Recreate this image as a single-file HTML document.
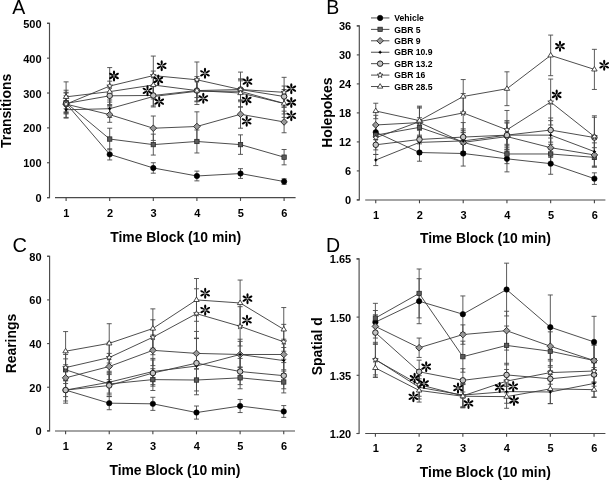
<!DOCTYPE html>
<html><head><meta charset="utf-8"><style>
html,body{margin:0;padding:0;background:#fff;width:609px;height:480px;overflow:hidden}
svg{display:block;will-change:transform}
</style></head><body>
<svg width="609" height="480" viewBox="0 0 609 480">
<rect width="609" height="480" fill="#fff"/>
<path d="M47.00 23.30H49.50V197.60H47.00" stroke="#4a4a4a" stroke-width="1.15" fill="none"/>
<path d="M47.00 197.60H49.50" stroke="#4a4a4a" stroke-width="1.15"/>
<text x="41.60" y="202.10" text-anchor="end" font-family='"Liberation Sans", sans-serif' font-weight="bold" font-size="11">0</text>
<path d="M47.00 162.74H49.50" stroke="#4a4a4a" stroke-width="1.15"/>
<text x="41.60" y="167.24" text-anchor="end" font-family='"Liberation Sans", sans-serif' font-weight="bold" font-size="11">100</text>
<path d="M47.00 127.88H49.50" stroke="#4a4a4a" stroke-width="1.15"/>
<text x="41.60" y="132.38" text-anchor="end" font-family='"Liberation Sans", sans-serif' font-weight="bold" font-size="11">200</text>
<path d="M47.00 93.02H49.50" stroke="#4a4a4a" stroke-width="1.15"/>
<text x="41.60" y="97.52" text-anchor="end" font-family='"Liberation Sans", sans-serif' font-weight="bold" font-size="11">300</text>
<path d="M47.00 58.16H49.50" stroke="#4a4a4a" stroke-width="1.15"/>
<text x="41.60" y="62.66" text-anchor="end" font-family='"Liberation Sans", sans-serif' font-weight="bold" font-size="11">400</text>
<path d="M47.00 23.30H49.50" stroke="#4a4a4a" stroke-width="1.15"/>
<text x="41.60" y="27.80" text-anchor="end" font-family='"Liberation Sans", sans-serif' font-weight="bold" font-size="11">500</text>
<path d="M55.00 197.60H295.60" stroke="#4a4a4a" stroke-width="1.15"/>
<path d="M66.10 197.60V200.90" stroke="#444" stroke-width="1.1"/>
<text x="66.40" y="216.70" text-anchor="middle" font-family='"Liberation Sans", sans-serif' font-weight="bold" font-size="11">1</text>
<path d="M109.70 197.60V200.90" stroke="#444" stroke-width="1.1"/>
<text x="110.00" y="216.70" text-anchor="middle" font-family='"Liberation Sans", sans-serif' font-weight="bold" font-size="11">2</text>
<path d="M153.30 197.60V200.90" stroke="#444" stroke-width="1.1"/>
<text x="153.60" y="216.70" text-anchor="middle" font-family='"Liberation Sans", sans-serif' font-weight="bold" font-size="11">3</text>
<path d="M196.90 197.60V200.90" stroke="#444" stroke-width="1.1"/>
<text x="197.20" y="216.70" text-anchor="middle" font-family='"Liberation Sans", sans-serif' font-weight="bold" font-size="11">4</text>
<path d="M240.50 197.60V200.90" stroke="#444" stroke-width="1.1"/>
<text x="240.80" y="216.70" text-anchor="middle" font-family='"Liberation Sans", sans-serif' font-weight="bold" font-size="11">5</text>
<path d="M284.10 197.60V200.90" stroke="#444" stroke-width="1.1"/>
<text x="284.40" y="216.70" text-anchor="middle" font-family='"Liberation Sans", sans-serif' font-weight="bold" font-size="11">6</text>
<text x="175.75" y="241.70" text-anchor="middle" font-family='"Liberation Sans", sans-serif' font-weight="bold" font-size="13.9">Time Block (10 min)</text>
<text transform="translate(11.00,110.90) rotate(-90)" text-anchor="middle" font-family='"Liberation Sans", sans-serif' font-weight="bold" font-size="13.9">Transitions</text>
<text x="12.30" y="14.00" font-family='"Liberation Sans", sans-serif' font-size="19.5">A</text>
<path d="M66.10 98.25V108.71M63.60 98.25H68.60M63.60 108.71H68.60" stroke="#4a4a4a" stroke-width="0.9" fill="none"/>
<path d="M109.70 148.80V159.95M107.20 148.80H112.20M107.20 159.95H112.20" stroke="#4a4a4a" stroke-width="0.9" fill="none"/>
<path d="M153.30 162.74V173.20M150.80 162.74H155.80M150.80 173.20H155.80" stroke="#4a4a4a" stroke-width="0.9" fill="none"/>
<path d="M196.90 171.11V180.87M194.40 171.11H199.40M194.40 180.87H199.40" stroke="#4a4a4a" stroke-width="0.9" fill="none"/>
<path d="M240.50 168.67V178.43M238.00 168.67H243.00M238.00 178.43H243.00" stroke="#4a4a4a" stroke-width="0.9" fill="none"/>
<path d="M284.10 178.78V184.35M281.60 178.78H286.60M281.60 184.35H286.60" stroke="#4a4a4a" stroke-width="0.9" fill="none"/>
<path d="M66.10 92.32V113.24M63.60 92.32H68.60M63.60 113.24H68.60" stroke="#4a4a4a" stroke-width="0.9" fill="none"/>
<path d="M109.70 128.23V149.84M107.20 128.23H112.20M107.20 149.84H112.20" stroke="#4a4a4a" stroke-width="0.9" fill="none"/>
<path d="M153.30 134.15V155.07M150.80 134.15H155.80M150.80 155.07H155.80" stroke="#4a4a4a" stroke-width="0.9" fill="none"/>
<path d="M196.90 129.97V152.98M194.40 129.97H199.40M194.40 152.98H199.40" stroke="#4a4a4a" stroke-width="0.9" fill="none"/>
<path d="M240.50 134.85V154.37M238.00 134.85H243.00M238.00 154.37H243.00" stroke="#4a4a4a" stroke-width="0.9" fill="none"/>
<path d="M284.10 149.49V164.83M281.60 149.49H286.60M281.60 164.83H286.60" stroke="#4a4a4a" stroke-width="0.9" fill="none"/>
<path d="M66.10 95.81V112.54M63.60 95.81H68.60M63.60 112.54H68.60" stroke="#4a4a4a" stroke-width="0.9" fill="none"/>
<path d="M109.70 106.96V122.30M107.20 106.96H112.20M107.20 122.30H112.20" stroke="#4a4a4a" stroke-width="0.9" fill="none"/>
<path d="M153.30 116.03V140.43M150.80 116.03H155.80M150.80 140.43H155.80" stroke="#4a4a4a" stroke-width="0.9" fill="none"/>
<path d="M196.90 111.84V141.13M194.40 111.84H199.40M194.40 141.13H199.40" stroke="#4a4a4a" stroke-width="0.9" fill="none"/>
<path d="M240.50 100.34V128.23M238.00 100.34H243.00M238.00 128.23H243.00" stroke="#4a4a4a" stroke-width="0.9" fill="none"/>
<path d="M284.10 111.15V132.76M281.60 111.15H286.60M281.60 132.76H286.60" stroke="#4a4a4a" stroke-width="0.9" fill="none"/>
<path d="M66.10 102.08V117.42M63.60 102.08H68.60M63.60 117.42H68.60" stroke="#4a4a4a" stroke-width="0.9" fill="none"/>
<path d="M109.70 99.99V117.42M107.20 99.99H112.20M107.20 117.42H112.20" stroke="#4a4a4a" stroke-width="0.9" fill="none"/>
<path d="M153.30 86.05V106.96M150.80 86.05H155.80M150.80 106.96H155.80" stroke="#4a4a4a" stroke-width="0.9" fill="none"/>
<path d="M196.90 80.82V101.74M194.40 80.82H199.40M194.40 101.74H199.40" stroke="#4a4a4a" stroke-width="0.9" fill="none"/>
<path d="M240.50 80.82V101.74M238.00 80.82H243.00M238.00 101.74H243.00" stroke="#4a4a4a" stroke-width="0.9" fill="none"/>
<path d="M284.10 93.02V113.94M281.60 93.02H286.60M281.60 113.94H286.60" stroke="#4a4a4a" stroke-width="0.9" fill="none"/>
<path d="M66.10 93.02V113.94M63.60 93.02H68.60M63.60 113.94H68.60" stroke="#4a4a4a" stroke-width="0.9" fill="none"/>
<path d="M109.70 86.05V105.57M107.20 86.05H112.20M107.20 105.57H112.20" stroke="#4a4a4a" stroke-width="0.9" fill="none"/>
<path d="M153.30 85.00V105.92M150.80 85.00H155.80M150.80 105.92H155.80" stroke="#4a4a4a" stroke-width="0.9" fill="none"/>
<path d="M196.90 80.12V101.04M194.40 80.12H199.40M194.40 101.04H199.40" stroke="#4a4a4a" stroke-width="0.9" fill="none"/>
<path d="M240.50 79.08V99.99M238.00 79.08H243.00M238.00 99.99H243.00" stroke="#4a4a4a" stroke-width="0.9" fill="none"/>
<path d="M284.10 86.05V106.96M281.60 86.05H286.60M281.60 106.96H286.60" stroke="#4a4a4a" stroke-width="0.9" fill="none"/>
<path d="M66.10 90.23V118.12M63.60 90.23H68.60M63.60 118.12H68.60" stroke="#4a4a4a" stroke-width="0.9" fill="none"/>
<path d="M109.70 67.57V104.52M107.20 67.57H112.20M107.20 104.52H112.20" stroke="#4a4a4a" stroke-width="0.9" fill="none"/>
<path d="M153.30 56.07V95.11M150.80 56.07H155.80M150.80 95.11H155.80" stroke="#4a4a4a" stroke-width="0.9" fill="none"/>
<path d="M196.90 61.99V97.55M194.40 61.99H199.40M194.40 97.55H199.40" stroke="#4a4a4a" stroke-width="0.9" fill="none"/>
<path d="M240.50 72.10V106.96M238.00 72.10H243.00M238.00 106.96H243.00" stroke="#4a4a4a" stroke-width="0.9" fill="none"/>
<path d="M284.10 77.33V107.31M281.60 77.33H286.60M281.60 107.31H286.60" stroke="#4a4a4a" stroke-width="0.9" fill="none"/>
<path d="M66.10 81.86V111.84M63.60 81.86H68.60M63.60 111.84H68.60" stroke="#4a4a4a" stroke-width="0.9" fill="none"/>
<path d="M109.70 81.17V102.08M107.20 81.17H112.20M107.20 102.08H112.20" stroke="#4a4a4a" stroke-width="0.9" fill="none"/>
<path d="M153.30 71.06V98.95M150.80 71.06H155.80M150.80 98.95H155.80" stroke="#4a4a4a" stroke-width="0.9" fill="none"/>
<path d="M196.90 76.64V104.52M194.40 76.64H199.40M194.40 104.52H199.40" stroke="#4a4a4a" stroke-width="0.9" fill="none"/>
<path d="M240.50 79.08V106.96M238.00 79.08H243.00M238.00 106.96H243.00" stroke="#4a4a4a" stroke-width="0.9" fill="none"/>
<path d="M284.10 89.53V117.42M281.60 89.53H286.60M281.60 117.42H286.60" stroke="#4a4a4a" stroke-width="0.9" fill="none"/>
<polyline points="66.10,103.48 109.70,154.37 153.30,167.97 196.90,175.99 240.50,173.55 284.10,181.56" stroke="#3a3a3a" stroke-width="0.9" fill="none"/>
<polyline points="66.10,102.78 109.70,139.04 153.30,144.61 196.90,141.48 240.50,144.61 284.10,157.16" stroke="#3a3a3a" stroke-width="0.9" fill="none"/>
<polyline points="66.10,104.18 109.70,114.63 153.30,128.23 196.90,126.49 240.50,114.28 284.10,121.95" stroke="#3a3a3a" stroke-width="0.9" fill="none"/>
<polyline points="66.10,109.75 109.70,108.71 153.30,96.51 196.90,91.28 240.50,91.28 284.10,103.48" stroke="#3a3a3a" stroke-width="0.9" fill="none"/>
<polyline points="66.10,103.48 109.70,95.81 153.30,95.46 196.90,90.58 240.50,89.53 284.10,96.51" stroke="#3a3a3a" stroke-width="0.9" fill="none"/>
<polyline points="66.10,104.18 109.70,86.05 153.30,75.59 196.90,79.77 240.50,89.53 284.10,92.32" stroke="#3a3a3a" stroke-width="0.9" fill="none"/>
<polyline points="66.10,96.85 109.70,91.63 153.30,85.00 196.90,90.58 240.50,93.02 284.10,103.48" stroke="#3a3a3a" stroke-width="0.9" fill="none"/>
<circle cx="66.10" cy="103.48" r="2.70" fill="#000" stroke="#000" stroke-width="0.6"/>
<circle cx="109.70" cy="154.37" r="2.70" fill="#000" stroke="#000" stroke-width="0.6"/>
<circle cx="153.30" cy="167.97" r="2.70" fill="#000" stroke="#000" stroke-width="0.6"/>
<circle cx="196.90" cy="175.99" r="2.70" fill="#000" stroke="#000" stroke-width="0.6"/>
<circle cx="240.50" cy="173.55" r="2.70" fill="#000" stroke="#000" stroke-width="0.6"/>
<circle cx="284.10" cy="181.56" r="2.70" fill="#000" stroke="#000" stroke-width="0.6"/>
<rect x="63.90" y="100.58" width="4.40" height="4.40" fill="#5a5a5a" stroke="#222" stroke-width="0.7"/>
<rect x="107.50" y="136.84" width="4.40" height="4.40" fill="#5a5a5a" stroke="#222" stroke-width="0.7"/>
<rect x="151.10" y="142.41" width="4.40" height="4.40" fill="#5a5a5a" stroke="#222" stroke-width="0.7"/>
<rect x="194.70" y="139.28" width="4.40" height="4.40" fill="#5a5a5a" stroke="#222" stroke-width="0.7"/>
<rect x="238.30" y="142.41" width="4.40" height="4.40" fill="#5a5a5a" stroke="#222" stroke-width="0.7"/>
<rect x="281.90" y="154.96" width="4.40" height="4.40" fill="#5a5a5a" stroke="#222" stroke-width="0.7"/>
<path d="M66.10 100.88L69.40 104.18L66.10 107.48L62.80 104.18Z" fill="#999" stroke="#222" stroke-width="0.9"/>
<path d="M109.70 111.33L113.00 114.63L109.70 117.93L106.40 114.63Z" fill="#999" stroke="#222" stroke-width="0.9"/>
<path d="M153.30 124.93L156.60 128.23L153.30 131.53L150.00 128.23Z" fill="#999" stroke="#222" stroke-width="0.9"/>
<path d="M196.90 123.19L200.20 126.49L196.90 129.79L193.60 126.49Z" fill="#999" stroke="#222" stroke-width="0.9"/>
<path d="M240.50 110.98L243.80 114.28L240.50 117.58L237.20 114.28Z" fill="#999" stroke="#222" stroke-width="0.9"/>
<path d="M284.10 118.65L287.40 121.95L284.10 125.25L280.80 121.95Z" fill="#999" stroke="#222" stroke-width="0.9"/>
<path d="M66.10 107.75L66.80 109.05L68.10 109.75L66.80 110.45L66.10 111.75L65.40 110.45L64.10 109.75L65.40 109.05Z" fill="#000"/>
<path d="M109.70 106.71L110.40 108.01L111.70 108.71L110.40 109.41L109.70 110.71L109.00 109.41L107.70 108.71L109.00 108.01Z" fill="#000"/>
<path d="M153.30 94.51L154.00 95.81L155.30 96.51L154.00 97.21L153.30 98.51L152.60 97.21L151.30 96.51L152.60 95.81Z" fill="#000"/>
<path d="M196.90 89.28L197.60 90.58L198.90 91.28L197.60 91.98L196.90 93.28L196.20 91.98L194.90 91.28L196.20 90.58Z" fill="#000"/>
<path d="M240.50 89.28L241.20 90.58L242.50 91.28L241.20 91.98L240.50 93.28L239.80 91.98L238.50 91.28L239.80 90.58Z" fill="#000"/>
<path d="M284.10 101.48L284.80 102.78L286.10 103.48L284.80 104.18L284.10 105.48L283.40 104.18L282.10 103.48L283.40 102.78Z" fill="#000"/>
<circle cx="66.10" cy="103.48" r="2.75" fill="#c4c4c4" stroke="#222" stroke-width="1.0"/>
<circle cx="109.70" cy="95.81" r="2.75" fill="#c4c4c4" stroke="#222" stroke-width="1.0"/>
<circle cx="153.30" cy="95.46" r="2.75" fill="#c4c4c4" stroke="#222" stroke-width="1.0"/>
<circle cx="196.90" cy="90.58" r="2.75" fill="#c4c4c4" stroke="#222" stroke-width="1.0"/>
<circle cx="240.50" cy="89.53" r="2.75" fill="#c4c4c4" stroke="#222" stroke-width="1.0"/>
<circle cx="284.10" cy="96.51" r="2.75" fill="#c4c4c4" stroke="#222" stroke-width="1.0"/>
<polygon points="66.10,101.18 66.86,103.12 68.95,103.25 67.34,104.58 67.86,106.60 66.10,105.48 64.34,106.60 64.86,104.58 63.25,103.25 65.34,103.12" fill="#fff" stroke="#222" stroke-width="0.8"/>
<polygon points="109.70,83.05 110.46,85.00 112.55,85.12 110.94,86.45 111.46,88.48 109.70,87.35 107.94,88.48 108.46,86.45 106.85,85.12 108.94,85.00" fill="#fff" stroke="#222" stroke-width="0.8"/>
<polygon points="153.30,72.59 154.06,74.54 156.15,74.66 154.54,75.99 155.06,78.02 153.30,76.89 151.54,78.02 152.06,75.99 150.45,74.66 152.54,74.54" fill="#fff" stroke="#222" stroke-width="0.8"/>
<polygon points="196.90,76.77 197.66,78.72 199.75,78.85 198.14,80.17 198.66,82.20 196.90,81.07 195.14,82.20 195.66,80.17 194.05,78.85 196.14,78.72" fill="#fff" stroke="#222" stroke-width="0.8"/>
<polygon points="240.50,86.53 241.26,88.48 243.35,88.61 241.74,89.94 242.26,91.96 240.50,90.83 238.74,91.96 239.26,89.94 237.65,88.61 239.74,88.48" fill="#fff" stroke="#222" stroke-width="0.8"/>
<polygon points="284.10,89.32 284.86,91.27 286.95,91.40 285.34,92.72 285.86,94.75 284.10,93.62 282.34,94.75 282.86,92.72 281.25,91.40 283.34,91.27" fill="#fff" stroke="#222" stroke-width="0.8"/>
<path d="M66.10 93.95L68.85 98.45L63.35 98.45Z" fill="#fff" stroke="#222" stroke-width="0.8"/>
<path d="M109.70 88.73L112.45 93.23L106.95 93.23Z" fill="#fff" stroke="#222" stroke-width="0.8"/>
<path d="M153.30 82.10L156.05 86.60L150.55 86.60Z" fill="#fff" stroke="#222" stroke-width="0.8"/>
<path d="M196.90 87.68L199.65 92.18L194.15 92.18Z" fill="#fff" stroke="#222" stroke-width="0.8"/>
<path d="M240.50 90.12L243.25 94.62L237.75 94.62Z" fill="#fff" stroke="#222" stroke-width="0.8"/>
<path d="M284.10 100.58L286.85 105.08L281.35 105.08Z" fill="#fff" stroke="#222" stroke-width="0.8"/>
<g fill="#000"><path transform="translate(114.00,76.00) rotate(0)" d="M0 -0.3C-1.45 -2.0 -1.45 -5.50 0 -5.50C1.45 -5.50 1.45 -2.0 0 -0.3Z"/><path transform="translate(114.00,76.00) rotate(60)" d="M0 -0.3C-1.45 -2.0 -1.45 -5.50 0 -5.50C1.45 -5.50 1.45 -2.0 0 -0.3Z"/><path transform="translate(114.00,76.00) rotate(120)" d="M0 -0.3C-1.45 -2.0 -1.45 -5.50 0 -5.50C1.45 -5.50 1.45 -2.0 0 -0.3Z"/><path transform="translate(114.00,76.00) rotate(180)" d="M0 -0.3C-1.45 -2.0 -1.45 -5.50 0 -5.50C1.45 -5.50 1.45 -2.0 0 -0.3Z"/><path transform="translate(114.00,76.00) rotate(240)" d="M0 -0.3C-1.45 -2.0 -1.45 -5.50 0 -5.50C1.45 -5.50 1.45 -2.0 0 -0.3Z"/><path transform="translate(114.00,76.00) rotate(300)" d="M0 -0.3C-1.45 -2.0 -1.45 -5.50 0 -5.50C1.45 -5.50 1.45 -2.0 0 -0.3Z"/></g>
<g fill="#000"><path transform="translate(161.70,65.80) rotate(0)" d="M0 -0.3C-1.45 -2.0 -1.45 -5.50 0 -5.50C1.45 -5.50 1.45 -2.0 0 -0.3Z"/><path transform="translate(161.70,65.80) rotate(60)" d="M0 -0.3C-1.45 -2.0 -1.45 -5.50 0 -5.50C1.45 -5.50 1.45 -2.0 0 -0.3Z"/><path transform="translate(161.70,65.80) rotate(120)" d="M0 -0.3C-1.45 -2.0 -1.45 -5.50 0 -5.50C1.45 -5.50 1.45 -2.0 0 -0.3Z"/><path transform="translate(161.70,65.80) rotate(180)" d="M0 -0.3C-1.45 -2.0 -1.45 -5.50 0 -5.50C1.45 -5.50 1.45 -2.0 0 -0.3Z"/><path transform="translate(161.70,65.80) rotate(240)" d="M0 -0.3C-1.45 -2.0 -1.45 -5.50 0 -5.50C1.45 -5.50 1.45 -2.0 0 -0.3Z"/><path transform="translate(161.70,65.80) rotate(300)" d="M0 -0.3C-1.45 -2.0 -1.45 -5.50 0 -5.50C1.45 -5.50 1.45 -2.0 0 -0.3Z"/></g>
<g fill="#000"><path transform="translate(158.30,80.00) rotate(0)" d="M0 -0.3C-1.45 -2.0 -1.45 -5.50 0 -5.50C1.45 -5.50 1.45 -2.0 0 -0.3Z"/><path transform="translate(158.30,80.00) rotate(60)" d="M0 -0.3C-1.45 -2.0 -1.45 -5.50 0 -5.50C1.45 -5.50 1.45 -2.0 0 -0.3Z"/><path transform="translate(158.30,80.00) rotate(120)" d="M0 -0.3C-1.45 -2.0 -1.45 -5.50 0 -5.50C1.45 -5.50 1.45 -2.0 0 -0.3Z"/><path transform="translate(158.30,80.00) rotate(180)" d="M0 -0.3C-1.45 -2.0 -1.45 -5.50 0 -5.50C1.45 -5.50 1.45 -2.0 0 -0.3Z"/><path transform="translate(158.30,80.00) rotate(240)" d="M0 -0.3C-1.45 -2.0 -1.45 -5.50 0 -5.50C1.45 -5.50 1.45 -2.0 0 -0.3Z"/><path transform="translate(158.30,80.00) rotate(300)" d="M0 -0.3C-1.45 -2.0 -1.45 -5.50 0 -5.50C1.45 -5.50 1.45 -2.0 0 -0.3Z"/></g>
<g fill="#000"><path transform="translate(147.50,90.80) rotate(0)" d="M0 -0.3C-1.45 -2.0 -1.45 -5.50 0 -5.50C1.45 -5.50 1.45 -2.0 0 -0.3Z"/><path transform="translate(147.50,90.80) rotate(60)" d="M0 -0.3C-1.45 -2.0 -1.45 -5.50 0 -5.50C1.45 -5.50 1.45 -2.0 0 -0.3Z"/><path transform="translate(147.50,90.80) rotate(120)" d="M0 -0.3C-1.45 -2.0 -1.45 -5.50 0 -5.50C1.45 -5.50 1.45 -2.0 0 -0.3Z"/><path transform="translate(147.50,90.80) rotate(180)" d="M0 -0.3C-1.45 -2.0 -1.45 -5.50 0 -5.50C1.45 -5.50 1.45 -2.0 0 -0.3Z"/><path transform="translate(147.50,90.80) rotate(240)" d="M0 -0.3C-1.45 -2.0 -1.45 -5.50 0 -5.50C1.45 -5.50 1.45 -2.0 0 -0.3Z"/><path transform="translate(147.50,90.80) rotate(300)" d="M0 -0.3C-1.45 -2.0 -1.45 -5.50 0 -5.50C1.45 -5.50 1.45 -2.0 0 -0.3Z"/></g>
<g fill="#000"><path transform="translate(159.20,101.70) rotate(0)" d="M0 -0.3C-1.45 -2.0 -1.45 -5.50 0 -5.50C1.45 -5.50 1.45 -2.0 0 -0.3Z"/><path transform="translate(159.20,101.70) rotate(60)" d="M0 -0.3C-1.45 -2.0 -1.45 -5.50 0 -5.50C1.45 -5.50 1.45 -2.0 0 -0.3Z"/><path transform="translate(159.20,101.70) rotate(120)" d="M0 -0.3C-1.45 -2.0 -1.45 -5.50 0 -5.50C1.45 -5.50 1.45 -2.0 0 -0.3Z"/><path transform="translate(159.20,101.70) rotate(180)" d="M0 -0.3C-1.45 -2.0 -1.45 -5.50 0 -5.50C1.45 -5.50 1.45 -2.0 0 -0.3Z"/><path transform="translate(159.20,101.70) rotate(240)" d="M0 -0.3C-1.45 -2.0 -1.45 -5.50 0 -5.50C1.45 -5.50 1.45 -2.0 0 -0.3Z"/><path transform="translate(159.20,101.70) rotate(300)" d="M0 -0.3C-1.45 -2.0 -1.45 -5.50 0 -5.50C1.45 -5.50 1.45 -2.0 0 -0.3Z"/></g>
<g fill="#000"><path transform="translate(205.00,73.30) rotate(0)" d="M0 -0.3C-1.45 -2.0 -1.45 -5.50 0 -5.50C1.45 -5.50 1.45 -2.0 0 -0.3Z"/><path transform="translate(205.00,73.30) rotate(60)" d="M0 -0.3C-1.45 -2.0 -1.45 -5.50 0 -5.50C1.45 -5.50 1.45 -2.0 0 -0.3Z"/><path transform="translate(205.00,73.30) rotate(120)" d="M0 -0.3C-1.45 -2.0 -1.45 -5.50 0 -5.50C1.45 -5.50 1.45 -2.0 0 -0.3Z"/><path transform="translate(205.00,73.30) rotate(180)" d="M0 -0.3C-1.45 -2.0 -1.45 -5.50 0 -5.50C1.45 -5.50 1.45 -2.0 0 -0.3Z"/><path transform="translate(205.00,73.30) rotate(240)" d="M0 -0.3C-1.45 -2.0 -1.45 -5.50 0 -5.50C1.45 -5.50 1.45 -2.0 0 -0.3Z"/><path transform="translate(205.00,73.30) rotate(300)" d="M0 -0.3C-1.45 -2.0 -1.45 -5.50 0 -5.50C1.45 -5.50 1.45 -2.0 0 -0.3Z"/></g>
<g fill="#000"><path transform="translate(203.30,98.30) rotate(0)" d="M0 -0.3C-1.45 -2.0 -1.45 -5.50 0 -5.50C1.45 -5.50 1.45 -2.0 0 -0.3Z"/><path transform="translate(203.30,98.30) rotate(60)" d="M0 -0.3C-1.45 -2.0 -1.45 -5.50 0 -5.50C1.45 -5.50 1.45 -2.0 0 -0.3Z"/><path transform="translate(203.30,98.30) rotate(120)" d="M0 -0.3C-1.45 -2.0 -1.45 -5.50 0 -5.50C1.45 -5.50 1.45 -2.0 0 -0.3Z"/><path transform="translate(203.30,98.30) rotate(180)" d="M0 -0.3C-1.45 -2.0 -1.45 -5.50 0 -5.50C1.45 -5.50 1.45 -2.0 0 -0.3Z"/><path transform="translate(203.30,98.30) rotate(240)" d="M0 -0.3C-1.45 -2.0 -1.45 -5.50 0 -5.50C1.45 -5.50 1.45 -2.0 0 -0.3Z"/><path transform="translate(203.30,98.30) rotate(300)" d="M0 -0.3C-1.45 -2.0 -1.45 -5.50 0 -5.50C1.45 -5.50 1.45 -2.0 0 -0.3Z"/></g>
<g fill="#000"><path transform="translate(247.50,81.70) rotate(0)" d="M0 -0.3C-1.45 -2.0 -1.45 -5.50 0 -5.50C1.45 -5.50 1.45 -2.0 0 -0.3Z"/><path transform="translate(247.50,81.70) rotate(60)" d="M0 -0.3C-1.45 -2.0 -1.45 -5.50 0 -5.50C1.45 -5.50 1.45 -2.0 0 -0.3Z"/><path transform="translate(247.50,81.70) rotate(120)" d="M0 -0.3C-1.45 -2.0 -1.45 -5.50 0 -5.50C1.45 -5.50 1.45 -2.0 0 -0.3Z"/><path transform="translate(247.50,81.70) rotate(180)" d="M0 -0.3C-1.45 -2.0 -1.45 -5.50 0 -5.50C1.45 -5.50 1.45 -2.0 0 -0.3Z"/><path transform="translate(247.50,81.70) rotate(240)" d="M0 -0.3C-1.45 -2.0 -1.45 -5.50 0 -5.50C1.45 -5.50 1.45 -2.0 0 -0.3Z"/><path transform="translate(247.50,81.70) rotate(300)" d="M0 -0.3C-1.45 -2.0 -1.45 -5.50 0 -5.50C1.45 -5.50 1.45 -2.0 0 -0.3Z"/></g>
<g fill="#000"><path transform="translate(246.70,100.00) rotate(0)" d="M0 -0.3C-1.45 -2.0 -1.45 -5.50 0 -5.50C1.45 -5.50 1.45 -2.0 0 -0.3Z"/><path transform="translate(246.70,100.00) rotate(60)" d="M0 -0.3C-1.45 -2.0 -1.45 -5.50 0 -5.50C1.45 -5.50 1.45 -2.0 0 -0.3Z"/><path transform="translate(246.70,100.00) rotate(120)" d="M0 -0.3C-1.45 -2.0 -1.45 -5.50 0 -5.50C1.45 -5.50 1.45 -2.0 0 -0.3Z"/><path transform="translate(246.70,100.00) rotate(180)" d="M0 -0.3C-1.45 -2.0 -1.45 -5.50 0 -5.50C1.45 -5.50 1.45 -2.0 0 -0.3Z"/><path transform="translate(246.70,100.00) rotate(240)" d="M0 -0.3C-1.45 -2.0 -1.45 -5.50 0 -5.50C1.45 -5.50 1.45 -2.0 0 -0.3Z"/><path transform="translate(246.70,100.00) rotate(300)" d="M0 -0.3C-1.45 -2.0 -1.45 -5.50 0 -5.50C1.45 -5.50 1.45 -2.0 0 -0.3Z"/></g>
<g fill="#000"><path transform="translate(246.70,121.30) rotate(0)" d="M0 -0.3C-1.45 -2.0 -1.45 -5.50 0 -5.50C1.45 -5.50 1.45 -2.0 0 -0.3Z"/><path transform="translate(246.70,121.30) rotate(60)" d="M0 -0.3C-1.45 -2.0 -1.45 -5.50 0 -5.50C1.45 -5.50 1.45 -2.0 0 -0.3Z"/><path transform="translate(246.70,121.30) rotate(120)" d="M0 -0.3C-1.45 -2.0 -1.45 -5.50 0 -5.50C1.45 -5.50 1.45 -2.0 0 -0.3Z"/><path transform="translate(246.70,121.30) rotate(180)" d="M0 -0.3C-1.45 -2.0 -1.45 -5.50 0 -5.50C1.45 -5.50 1.45 -2.0 0 -0.3Z"/><path transform="translate(246.70,121.30) rotate(240)" d="M0 -0.3C-1.45 -2.0 -1.45 -5.50 0 -5.50C1.45 -5.50 1.45 -2.0 0 -0.3Z"/><path transform="translate(246.70,121.30) rotate(300)" d="M0 -0.3C-1.45 -2.0 -1.45 -5.50 0 -5.50C1.45 -5.50 1.45 -2.0 0 -0.3Z"/></g>
<g fill="#000"><path transform="translate(291.30,88.70) rotate(0)" d="M0 -0.3C-1.45 -2.0 -1.45 -5.50 0 -5.50C1.45 -5.50 1.45 -2.0 0 -0.3Z"/><path transform="translate(291.30,88.70) rotate(60)" d="M0 -0.3C-1.45 -2.0 -1.45 -5.50 0 -5.50C1.45 -5.50 1.45 -2.0 0 -0.3Z"/><path transform="translate(291.30,88.70) rotate(120)" d="M0 -0.3C-1.45 -2.0 -1.45 -5.50 0 -5.50C1.45 -5.50 1.45 -2.0 0 -0.3Z"/><path transform="translate(291.30,88.70) rotate(180)" d="M0 -0.3C-1.45 -2.0 -1.45 -5.50 0 -5.50C1.45 -5.50 1.45 -2.0 0 -0.3Z"/><path transform="translate(291.30,88.70) rotate(240)" d="M0 -0.3C-1.45 -2.0 -1.45 -5.50 0 -5.50C1.45 -5.50 1.45 -2.0 0 -0.3Z"/><path transform="translate(291.30,88.70) rotate(300)" d="M0 -0.3C-1.45 -2.0 -1.45 -5.50 0 -5.50C1.45 -5.50 1.45 -2.0 0 -0.3Z"/></g>
<g fill="#000"><path transform="translate(291.30,102.50) rotate(0)" d="M0 -0.3C-1.45 -2.0 -1.45 -5.50 0 -5.50C1.45 -5.50 1.45 -2.0 0 -0.3Z"/><path transform="translate(291.30,102.50) rotate(60)" d="M0 -0.3C-1.45 -2.0 -1.45 -5.50 0 -5.50C1.45 -5.50 1.45 -2.0 0 -0.3Z"/><path transform="translate(291.30,102.50) rotate(120)" d="M0 -0.3C-1.45 -2.0 -1.45 -5.50 0 -5.50C1.45 -5.50 1.45 -2.0 0 -0.3Z"/><path transform="translate(291.30,102.50) rotate(180)" d="M0 -0.3C-1.45 -2.0 -1.45 -5.50 0 -5.50C1.45 -5.50 1.45 -2.0 0 -0.3Z"/><path transform="translate(291.30,102.50) rotate(240)" d="M0 -0.3C-1.45 -2.0 -1.45 -5.50 0 -5.50C1.45 -5.50 1.45 -2.0 0 -0.3Z"/><path transform="translate(291.30,102.50) rotate(300)" d="M0 -0.3C-1.45 -2.0 -1.45 -5.50 0 -5.50C1.45 -5.50 1.45 -2.0 0 -0.3Z"/></g>
<g fill="#000"><path transform="translate(291.30,115.80) rotate(0)" d="M0 -0.3C-1.45 -2.0 -1.45 -5.50 0 -5.50C1.45 -5.50 1.45 -2.0 0 -0.3Z"/><path transform="translate(291.30,115.80) rotate(60)" d="M0 -0.3C-1.45 -2.0 -1.45 -5.50 0 -5.50C1.45 -5.50 1.45 -2.0 0 -0.3Z"/><path transform="translate(291.30,115.80) rotate(120)" d="M0 -0.3C-1.45 -2.0 -1.45 -5.50 0 -5.50C1.45 -5.50 1.45 -2.0 0 -0.3Z"/><path transform="translate(291.30,115.80) rotate(180)" d="M0 -0.3C-1.45 -2.0 -1.45 -5.50 0 -5.50C1.45 -5.50 1.45 -2.0 0 -0.3Z"/><path transform="translate(291.30,115.80) rotate(240)" d="M0 -0.3C-1.45 -2.0 -1.45 -5.50 0 -5.50C1.45 -5.50 1.45 -2.0 0 -0.3Z"/><path transform="translate(291.30,115.80) rotate(300)" d="M0 -0.3C-1.45 -2.0 -1.45 -5.50 0 -5.50C1.45 -5.50 1.45 -2.0 0 -0.3Z"/></g>
<path d="M356.80 25.90H359.30V199.90H356.80" stroke="#4a4a4a" stroke-width="1.15" fill="none"/>
<path d="M356.80 199.90H359.30" stroke="#4a4a4a" stroke-width="1.15"/>
<text x="351.20" y="204.40" text-anchor="end" font-family='"Liberation Sans", sans-serif' font-weight="bold" font-size="11">0</text>
<path d="M356.80 170.90H359.30" stroke="#4a4a4a" stroke-width="1.15"/>
<text x="351.20" y="175.40" text-anchor="end" font-family='"Liberation Sans", sans-serif' font-weight="bold" font-size="11">6</text>
<path d="M356.80 141.90H359.30" stroke="#4a4a4a" stroke-width="1.15"/>
<text x="351.20" y="146.40" text-anchor="end" font-family='"Liberation Sans", sans-serif' font-weight="bold" font-size="11">12</text>
<path d="M356.80 112.90H359.30" stroke="#4a4a4a" stroke-width="1.15"/>
<text x="351.20" y="117.40" text-anchor="end" font-family='"Liberation Sans", sans-serif' font-weight="bold" font-size="11">18</text>
<path d="M356.80 83.90H359.30" stroke="#4a4a4a" stroke-width="1.15"/>
<text x="351.20" y="88.40" text-anchor="end" font-family='"Liberation Sans", sans-serif' font-weight="bold" font-size="11">24</text>
<path d="M356.80 54.90H359.30" stroke="#4a4a4a" stroke-width="1.15"/>
<text x="351.20" y="59.40" text-anchor="end" font-family='"Liberation Sans", sans-serif' font-weight="bold" font-size="11">30</text>
<path d="M356.80 25.90H359.30" stroke="#4a4a4a" stroke-width="1.15"/>
<text x="351.20" y="30.40" text-anchor="end" font-family='"Liberation Sans", sans-serif' font-weight="bold" font-size="11">36</text>
<path d="M365.20 200.00H605.40" stroke="#4a4a4a" stroke-width="1.15"/>
<path d="M375.75 200.00V203.30" stroke="#444" stroke-width="1.1"/>
<text x="376.05" y="219.20" text-anchor="middle" font-family='"Liberation Sans", sans-serif' font-weight="bold" font-size="11">1</text>
<path d="M419.48 200.00V203.30" stroke="#444" stroke-width="1.1"/>
<text x="419.78" y="219.20" text-anchor="middle" font-family='"Liberation Sans", sans-serif' font-weight="bold" font-size="11">2</text>
<path d="M463.21 200.00V203.30" stroke="#444" stroke-width="1.1"/>
<text x="463.51" y="219.20" text-anchor="middle" font-family='"Liberation Sans", sans-serif' font-weight="bold" font-size="11">3</text>
<path d="M506.94 200.00V203.30" stroke="#444" stroke-width="1.1"/>
<text x="507.24" y="219.20" text-anchor="middle" font-family='"Liberation Sans", sans-serif' font-weight="bold" font-size="11">4</text>
<path d="M550.67 200.00V203.30" stroke="#444" stroke-width="1.1"/>
<text x="550.97" y="219.20" text-anchor="middle" font-family='"Liberation Sans", sans-serif' font-weight="bold" font-size="11">5</text>
<path d="M594.40 200.00V203.30" stroke="#444" stroke-width="1.1"/>
<text x="594.70" y="219.20" text-anchor="middle" font-family='"Liberation Sans", sans-serif' font-weight="bold" font-size="11">6</text>
<text x="485.40" y="243.10" text-anchor="middle" font-family='"Liberation Sans", sans-serif' font-weight="bold" font-size="13.9">Time Block (10 min)</text>
<text transform="translate(331.60,112.70) rotate(-90)" text-anchor="middle" font-family='"Liberation Sans", sans-serif' font-weight="bold" font-size="13.9">Holepokes</text>
<text x="326.20" y="14.00" font-family='"Liberation Sans", sans-serif' font-size="19.5">B</text>
<path d="M375.75 124.98V139.48M373.25 124.98H378.25M373.25 139.48H378.25" stroke="#4a4a4a" stroke-width="0.9" fill="none"/>
<path d="M419.48 143.83V161.23M416.98 143.83H421.98M416.98 161.23H421.98" stroke="#4a4a4a" stroke-width="0.9" fill="none"/>
<path d="M463.21 140.93V166.07M460.71 140.93H465.71M460.71 166.07H465.71" stroke="#4a4a4a" stroke-width="0.9" fill="none"/>
<path d="M506.94 145.77V171.87M504.44 145.77H509.44M504.44 171.87H509.44" stroke="#4a4a4a" stroke-width="0.9" fill="none"/>
<path d="M550.67 153.02V174.28M548.17 153.02H553.17M548.17 174.28H553.17" stroke="#4a4a4a" stroke-width="0.9" fill="none"/>
<path d="M594.40 172.83V184.43M591.90 172.83H596.90M591.90 184.43H596.90" stroke="#4a4a4a" stroke-width="0.9" fill="none"/>
<path d="M375.75 125.47V144.80M373.25 125.47H378.25M373.25 144.80H378.25" stroke="#4a4a4a" stroke-width="0.9" fill="none"/>
<path d="M419.48 117.73V137.07M416.98 117.73H421.98M416.98 137.07H421.98" stroke="#4a4a4a" stroke-width="0.9" fill="none"/>
<path d="M463.21 132.72V152.05M460.71 132.72H465.71M460.71 152.05H465.71" stroke="#4a4a4a" stroke-width="0.9" fill="none"/>
<path d="M506.94 144.32V163.65M504.44 144.32H509.44M504.44 163.65H509.44" stroke="#4a4a4a" stroke-width="0.9" fill="none"/>
<path d="M550.67 144.32V163.65M548.17 144.32H553.17M548.17 163.65H553.17" stroke="#4a4a4a" stroke-width="0.9" fill="none"/>
<path d="M594.40 147.70V167.03M591.90 147.70H596.90M591.90 167.03H596.90" stroke="#4a4a4a" stroke-width="0.9" fill="none"/>
<path d="M375.75 115.32V134.65M373.25 115.32H378.25M373.25 134.65H378.25" stroke="#4a4a4a" stroke-width="0.9" fill="none"/>
<path d="M419.48 108.07V137.07M416.98 108.07H421.98M416.98 137.07H421.98" stroke="#4a4a4a" stroke-width="0.9" fill="none"/>
<path d="M463.21 130.30V154.47M460.71 130.30H465.71M460.71 154.47H465.71" stroke="#4a4a4a" stroke-width="0.9" fill="none"/>
<path d="M506.94 122.08V151.08M504.44 122.08H509.44M504.44 151.08H509.44" stroke="#4a4a4a" stroke-width="0.9" fill="none"/>
<path d="M550.67 138.03V157.37M548.17 138.03H553.17M548.17 157.37H553.17" stroke="#4a4a4a" stroke-width="0.9" fill="none"/>
<path d="M594.40 142.87V167.03M591.90 142.87H596.90M591.90 167.03H596.90" stroke="#4a4a4a" stroke-width="0.9" fill="none"/>
<path d="M375.75 154.47V165.58M373.25 154.47H378.25M373.25 165.58H378.25" stroke="#4a4a4a" stroke-width="0.9" fill="none"/>
<path d="M419.48 130.30V154.47M416.98 130.30H421.98M416.98 154.47H421.98" stroke="#4a4a4a" stroke-width="0.9" fill="none"/>
<path d="M463.21 128.85V153.02M460.71 128.85H465.71M460.71 153.02H465.71" stroke="#4a4a4a" stroke-width="0.9" fill="none"/>
<path d="M506.94 123.05V147.22M504.44 123.05H509.44M504.44 147.22H509.44" stroke="#4a4a4a" stroke-width="0.9" fill="none"/>
<path d="M550.67 120.63V149.63M548.17 120.63H553.17M548.17 149.63H553.17" stroke="#4a4a4a" stroke-width="0.9" fill="none"/>
<path d="M594.40 137.07V166.07M591.90 137.07H596.90M591.90 166.07H596.90" stroke="#4a4a4a" stroke-width="0.9" fill="none"/>
<path d="M375.75 135.13V154.47M373.25 135.13H378.25M373.25 154.47H378.25" stroke="#4a4a4a" stroke-width="0.9" fill="none"/>
<path d="M419.48 127.40V151.57M416.98 127.40H421.98M416.98 151.57H421.98" stroke="#4a4a4a" stroke-width="0.9" fill="none"/>
<path d="M463.21 122.57V151.57M460.71 122.57H465.71M460.71 151.57H465.71" stroke="#4a4a4a" stroke-width="0.9" fill="none"/>
<path d="M506.94 120.63V149.63M504.44 120.63H509.44M504.44 149.63H509.44" stroke="#4a4a4a" stroke-width="0.9" fill="none"/>
<path d="M550.67 117.98V142.14M548.17 117.98H553.17M548.17 142.14H553.17" stroke="#4a4a4a" stroke-width="0.9" fill="none"/>
<path d="M594.40 115.80V159.30M591.90 115.80H596.90M591.90 159.30H596.90" stroke="#4a4a4a" stroke-width="0.9" fill="none"/>
<path d="M375.75 125.71V149.88M373.25 125.71H378.25M373.25 149.88H378.25" stroke="#4a4a4a" stroke-width="0.9" fill="none"/>
<path d="M419.48 107.10V136.10M416.98 107.10H421.98M416.98 136.10H421.98" stroke="#4a4a4a" stroke-width="0.9" fill="none"/>
<path d="M463.21 93.57V132.23M460.71 93.57H465.71M460.71 132.23H465.71" stroke="#4a4a4a" stroke-width="0.9" fill="none"/>
<path d="M506.94 110.48V149.15M504.44 110.48H509.44M504.44 149.15H509.44" stroke="#4a4a4a" stroke-width="0.9" fill="none"/>
<path d="M550.67 79.07V124.98M548.17 79.07H553.17M548.17 124.98H553.17" stroke="#4a4a4a" stroke-width="0.9" fill="none"/>
<path d="M594.40 117.25V155.92M591.90 117.25H596.90M591.90 155.92H596.90" stroke="#4a4a4a" stroke-width="0.9" fill="none"/>
<path d="M375.75 103.23V118.70M373.25 103.23H378.25M373.25 118.70H378.25" stroke="#4a4a4a" stroke-width="0.9" fill="none"/>
<path d="M419.48 106.13V135.13M416.98 106.13H421.98M416.98 135.13H421.98" stroke="#4a4a4a" stroke-width="0.9" fill="none"/>
<path d="M463.21 79.55V113.38M460.71 79.55H465.71M460.71 113.38H465.71" stroke="#4a4a4a" stroke-width="0.9" fill="none"/>
<path d="M506.94 71.82V105.65M504.44 71.82H509.44M504.44 105.65H509.44" stroke="#4a4a4a" stroke-width="0.9" fill="none"/>
<path d="M550.67 35.08V75.68M548.17 35.08H553.17M548.17 75.68H553.17" stroke="#4a4a4a" stroke-width="0.9" fill="none"/>
<path d="M594.40 49.34V89.46M591.90 49.34H596.90M591.90 89.46H596.90" stroke="#4a4a4a" stroke-width="0.9" fill="none"/>
<polyline points="375.75,132.23 419.48,152.53 463.21,153.50 506.94,158.82 550.67,163.65 594.40,178.63" stroke="#3a3a3a" stroke-width="0.9" fill="none"/>
<polyline points="375.75,135.13 419.48,127.40 463.21,142.38 506.94,153.98 550.67,153.98 594.40,157.37" stroke="#3a3a3a" stroke-width="0.9" fill="none"/>
<polyline points="375.75,124.98 419.48,122.57 463.21,142.38 506.94,136.58 550.67,147.70 594.40,154.95" stroke="#3a3a3a" stroke-width="0.9" fill="none"/>
<polyline points="375.75,160.03 419.48,142.38 463.21,140.93 506.94,135.13 550.67,135.13 594.40,151.57" stroke="#3a3a3a" stroke-width="0.9" fill="none"/>
<polyline points="375.75,144.80 419.48,139.48 463.21,137.07 506.94,135.13 550.67,130.06 594.40,137.55" stroke="#3a3a3a" stroke-width="0.9" fill="none"/>
<polyline points="375.75,137.79 419.48,121.60 463.21,112.90 506.94,129.82 550.67,102.03 594.40,136.58" stroke="#3a3a3a" stroke-width="0.9" fill="none"/>
<polyline points="375.75,110.97 419.48,120.63 463.21,96.47 506.94,88.73 550.67,55.38 594.40,69.40" stroke="#3a3a3a" stroke-width="0.9" fill="none"/>
<circle cx="375.75" cy="132.23" r="2.70" fill="#000" stroke="#000" stroke-width="0.6"/>
<circle cx="419.48" cy="152.53" r="2.70" fill="#000" stroke="#000" stroke-width="0.6"/>
<circle cx="463.21" cy="153.50" r="2.70" fill="#000" stroke="#000" stroke-width="0.6"/>
<circle cx="506.94" cy="158.82" r="2.70" fill="#000" stroke="#000" stroke-width="0.6"/>
<circle cx="550.67" cy="163.65" r="2.70" fill="#000" stroke="#000" stroke-width="0.6"/>
<circle cx="594.40" cy="178.63" r="2.70" fill="#000" stroke="#000" stroke-width="0.6"/>
<rect x="373.55" y="132.93" width="4.40" height="4.40" fill="#5a5a5a" stroke="#222" stroke-width="0.7"/>
<rect x="417.28" y="125.20" width="4.40" height="4.40" fill="#5a5a5a" stroke="#222" stroke-width="0.7"/>
<rect x="461.01" y="140.18" width="4.40" height="4.40" fill="#5a5a5a" stroke="#222" stroke-width="0.7"/>
<rect x="504.74" y="151.78" width="4.40" height="4.40" fill="#5a5a5a" stroke="#222" stroke-width="0.7"/>
<rect x="548.47" y="151.78" width="4.40" height="4.40" fill="#5a5a5a" stroke="#222" stroke-width="0.7"/>
<rect x="592.20" y="155.17" width="4.40" height="4.40" fill="#5a5a5a" stroke="#222" stroke-width="0.7"/>
<path d="M375.75 121.68L379.05 124.98L375.75 128.28L372.45 124.98Z" fill="#999" stroke="#222" stroke-width="0.9"/>
<path d="M419.48 119.27L422.78 122.57L419.48 125.87L416.18 122.57Z" fill="#999" stroke="#222" stroke-width="0.9"/>
<path d="M463.21 139.08L466.51 142.38L463.21 145.68L459.91 142.38Z" fill="#999" stroke="#222" stroke-width="0.9"/>
<path d="M506.94 133.28L510.24 136.58L506.94 139.88L503.64 136.58Z" fill="#999" stroke="#222" stroke-width="0.9"/>
<path d="M550.67 144.40L553.97 147.70L550.67 151.00L547.37 147.70Z" fill="#999" stroke="#222" stroke-width="0.9"/>
<path d="M594.40 151.65L597.70 154.95L594.40 158.25L591.10 154.95Z" fill="#999" stroke="#222" stroke-width="0.9"/>
<path d="M375.75 158.03L376.45 159.33L377.75 160.03L376.45 160.72L375.75 162.03L375.05 160.72L373.75 160.03L375.05 159.33Z" fill="#000"/>
<path d="M419.48 140.38L420.18 141.68L421.48 142.38L420.18 143.08L419.48 144.38L418.78 143.08L417.48 142.38L418.78 141.68Z" fill="#000"/>
<path d="M463.21 138.93L463.91 140.23L465.21 140.93L463.91 141.63L463.21 142.93L462.51 141.63L461.21 140.93L462.51 140.23Z" fill="#000"/>
<path d="M506.94 133.13L507.64 134.43L508.94 135.13L507.64 135.83L506.94 137.13L506.24 135.83L504.94 135.13L506.24 134.43Z" fill="#000"/>
<path d="M550.67 133.13L551.37 134.43L552.67 135.13L551.37 135.83L550.67 137.13L549.97 135.83L548.67 135.13L549.97 134.43Z" fill="#000"/>
<path d="M594.40 149.57L595.10 150.87L596.40 151.57L595.10 152.27L594.40 153.57L593.70 152.27L592.40 151.57L593.70 150.87Z" fill="#000"/>
<circle cx="375.75" cy="144.80" r="2.75" fill="#c4c4c4" stroke="#222" stroke-width="1.0"/>
<circle cx="419.48" cy="139.48" r="2.75" fill="#c4c4c4" stroke="#222" stroke-width="1.0"/>
<circle cx="463.21" cy="137.07" r="2.75" fill="#c4c4c4" stroke="#222" stroke-width="1.0"/>
<circle cx="506.94" cy="135.13" r="2.75" fill="#c4c4c4" stroke="#222" stroke-width="1.0"/>
<circle cx="550.67" cy="130.06" r="2.75" fill="#c4c4c4" stroke="#222" stroke-width="1.0"/>
<circle cx="594.40" cy="137.55" r="2.75" fill="#c4c4c4" stroke="#222" stroke-width="1.0"/>
<polygon points="375.75,134.79 376.51,136.74 378.60,136.86 376.99,138.19 377.51,140.22 375.75,139.09 373.99,140.22 374.51,138.19 372.90,136.86 374.99,136.74" fill="#fff" stroke="#222" stroke-width="0.8"/>
<polygon points="419.48,118.60 420.24,120.55 422.33,120.67 420.72,122.00 421.24,124.03 419.48,122.90 417.72,124.03 418.24,122.00 416.63,120.67 418.72,120.55" fill="#fff" stroke="#222" stroke-width="0.8"/>
<polygon points="463.21,109.90 463.97,111.85 466.06,111.97 464.45,113.30 464.97,115.33 463.21,114.20 461.45,115.33 461.97,113.30 460.36,111.97 462.45,111.85" fill="#fff" stroke="#222" stroke-width="0.8"/>
<polygon points="506.94,126.82 507.70,128.76 509.79,128.89 508.18,130.22 508.70,132.24 506.94,131.12 505.18,132.24 505.70,130.22 504.09,128.89 506.18,128.76" fill="#fff" stroke="#222" stroke-width="0.8"/>
<polygon points="550.67,99.03 551.43,100.97 553.52,101.10 551.91,102.43 552.43,104.45 550.67,103.33 548.91,104.45 549.43,102.43 547.82,101.10 549.91,100.97" fill="#fff" stroke="#222" stroke-width="0.8"/>
<polygon points="594.40,133.58 595.16,135.53 597.25,135.66 595.64,136.99 596.16,139.01 594.40,137.88 592.64,139.01 593.16,136.99 591.55,135.66 593.64,135.53" fill="#fff" stroke="#222" stroke-width="0.8"/>
<path d="M375.75 108.07L378.50 112.57L373.00 112.57Z" fill="#fff" stroke="#222" stroke-width="0.8"/>
<path d="M419.48 117.73L422.23 122.23L416.73 122.23Z" fill="#fff" stroke="#222" stroke-width="0.8"/>
<path d="M463.21 93.57L465.96 98.07L460.46 98.07Z" fill="#fff" stroke="#222" stroke-width="0.8"/>
<path d="M506.94 85.83L509.69 90.33L504.19 90.33Z" fill="#fff" stroke="#222" stroke-width="0.8"/>
<path d="M550.67 52.48L553.42 56.98L547.92 56.98Z" fill="#fff" stroke="#222" stroke-width="0.8"/>
<path d="M594.40 66.50L597.15 71.00L591.65 71.00Z" fill="#fff" stroke="#222" stroke-width="0.8"/>
<g fill="#000"><path transform="translate(560.00,46.20) rotate(0)" d="M0 -0.3C-1.45 -2.0 -1.45 -5.50 0 -5.50C1.45 -5.50 1.45 -2.0 0 -0.3Z"/><path transform="translate(560.00,46.20) rotate(60)" d="M0 -0.3C-1.45 -2.0 -1.45 -5.50 0 -5.50C1.45 -5.50 1.45 -2.0 0 -0.3Z"/><path transform="translate(560.00,46.20) rotate(120)" d="M0 -0.3C-1.45 -2.0 -1.45 -5.50 0 -5.50C1.45 -5.50 1.45 -2.0 0 -0.3Z"/><path transform="translate(560.00,46.20) rotate(180)" d="M0 -0.3C-1.45 -2.0 -1.45 -5.50 0 -5.50C1.45 -5.50 1.45 -2.0 0 -0.3Z"/><path transform="translate(560.00,46.20) rotate(240)" d="M0 -0.3C-1.45 -2.0 -1.45 -5.50 0 -5.50C1.45 -5.50 1.45 -2.0 0 -0.3Z"/><path transform="translate(560.00,46.20) rotate(300)" d="M0 -0.3C-1.45 -2.0 -1.45 -5.50 0 -5.50C1.45 -5.50 1.45 -2.0 0 -0.3Z"/></g>
<g fill="#000"><path transform="translate(604.20,65.30) rotate(0)" d="M0 -0.3C-1.45 -2.0 -1.45 -5.50 0 -5.50C1.45 -5.50 1.45 -2.0 0 -0.3Z"/><path transform="translate(604.20,65.30) rotate(60)" d="M0 -0.3C-1.45 -2.0 -1.45 -5.50 0 -5.50C1.45 -5.50 1.45 -2.0 0 -0.3Z"/><path transform="translate(604.20,65.30) rotate(120)" d="M0 -0.3C-1.45 -2.0 -1.45 -5.50 0 -5.50C1.45 -5.50 1.45 -2.0 0 -0.3Z"/><path transform="translate(604.20,65.30) rotate(180)" d="M0 -0.3C-1.45 -2.0 -1.45 -5.50 0 -5.50C1.45 -5.50 1.45 -2.0 0 -0.3Z"/><path transform="translate(604.20,65.30) rotate(240)" d="M0 -0.3C-1.45 -2.0 -1.45 -5.50 0 -5.50C1.45 -5.50 1.45 -2.0 0 -0.3Z"/><path transform="translate(604.20,65.30) rotate(300)" d="M0 -0.3C-1.45 -2.0 -1.45 -5.50 0 -5.50C1.45 -5.50 1.45 -2.0 0 -0.3Z"/></g>
<g fill="#000"><path transform="translate(556.70,95.00) rotate(0)" d="M0 -0.3C-1.45 -2.0 -1.45 -5.50 0 -5.50C1.45 -5.50 1.45 -2.0 0 -0.3Z"/><path transform="translate(556.70,95.00) rotate(60)" d="M0 -0.3C-1.45 -2.0 -1.45 -5.50 0 -5.50C1.45 -5.50 1.45 -2.0 0 -0.3Z"/><path transform="translate(556.70,95.00) rotate(120)" d="M0 -0.3C-1.45 -2.0 -1.45 -5.50 0 -5.50C1.45 -5.50 1.45 -2.0 0 -0.3Z"/><path transform="translate(556.70,95.00) rotate(180)" d="M0 -0.3C-1.45 -2.0 -1.45 -5.50 0 -5.50C1.45 -5.50 1.45 -2.0 0 -0.3Z"/><path transform="translate(556.70,95.00) rotate(240)" d="M0 -0.3C-1.45 -2.0 -1.45 -5.50 0 -5.50C1.45 -5.50 1.45 -2.0 0 -0.3Z"/><path transform="translate(556.70,95.00) rotate(300)" d="M0 -0.3C-1.45 -2.0 -1.45 -5.50 0 -5.50C1.45 -5.50 1.45 -2.0 0 -0.3Z"/></g>
<path d="M47.10 256.25H49.60V430.90H47.10" stroke="#4a4a4a" stroke-width="1.15" fill="none"/>
<path d="M47.10 430.90H49.60" stroke="#4a4a4a" stroke-width="1.15"/>
<text x="41.60" y="435.40" text-anchor="end" font-family='"Liberation Sans", sans-serif' font-weight="bold" font-size="11">0</text>
<path d="M47.10 387.24H49.60" stroke="#4a4a4a" stroke-width="1.15"/>
<text x="41.60" y="391.74" text-anchor="end" font-family='"Liberation Sans", sans-serif' font-weight="bold" font-size="11">20</text>
<path d="M47.10 343.57H49.60" stroke="#4a4a4a" stroke-width="1.15"/>
<text x="41.60" y="348.07" text-anchor="end" font-family='"Liberation Sans", sans-serif' font-weight="bold" font-size="11">40</text>
<path d="M47.10 299.91H49.60" stroke="#4a4a4a" stroke-width="1.15"/>
<text x="41.60" y="304.41" text-anchor="end" font-family='"Liberation Sans", sans-serif' font-weight="bold" font-size="11">60</text>
<path d="M47.10 256.25H49.60" stroke="#4a4a4a" stroke-width="1.15"/>
<text x="41.60" y="260.75" text-anchor="end" font-family='"Liberation Sans", sans-serif' font-weight="bold" font-size="11">80</text>
<path d="M55.00 431.00H295.00" stroke="#4a4a4a" stroke-width="1.15"/>
<path d="M65.60 431.00V434.30" stroke="#444" stroke-width="1.1"/>
<text x="65.90" y="449.60" text-anchor="middle" font-family='"Liberation Sans", sans-serif' font-weight="bold" font-size="11">1</text>
<path d="M109.23 431.00V434.30" stroke="#444" stroke-width="1.1"/>
<text x="109.53" y="449.60" text-anchor="middle" font-family='"Liberation Sans", sans-serif' font-weight="bold" font-size="11">2</text>
<path d="M152.86 431.00V434.30" stroke="#444" stroke-width="1.1"/>
<text x="153.16" y="449.60" text-anchor="middle" font-family='"Liberation Sans", sans-serif' font-weight="bold" font-size="11">3</text>
<path d="M196.49 431.00V434.30" stroke="#444" stroke-width="1.1"/>
<text x="196.79" y="449.60" text-anchor="middle" font-family='"Liberation Sans", sans-serif' font-weight="bold" font-size="11">4</text>
<path d="M240.12 431.00V434.30" stroke="#444" stroke-width="1.1"/>
<text x="240.42" y="449.60" text-anchor="middle" font-family='"Liberation Sans", sans-serif' font-weight="bold" font-size="11">5</text>
<path d="M283.75 431.00V434.30" stroke="#444" stroke-width="1.1"/>
<text x="284.05" y="449.60" text-anchor="middle" font-family='"Liberation Sans", sans-serif' font-weight="bold" font-size="11">6</text>
<text x="174.90" y="475.00" text-anchor="middle" font-family='"Liberation Sans", sans-serif' font-weight="bold" font-size="13.9">Time Block (10 min)</text>
<text transform="translate(16.30,343.60) rotate(-90)" text-anchor="middle" font-family='"Liberation Sans", sans-serif' font-weight="bold" font-size="13.9">Rearings</text>
<text x="12.60" y="252.00" font-family='"Liberation Sans", sans-serif' font-size="20">C</text>
<path d="M65.60 383.53V396.62M63.10 383.53H68.10M63.10 396.62H68.10" stroke="#4a4a4a" stroke-width="0.9" fill="none"/>
<path d="M109.23 396.62V409.72M106.73 396.62H111.73M106.73 409.72H111.73" stroke="#4a4a4a" stroke-width="0.9" fill="none"/>
<path d="M152.86 397.28V410.38M150.36 397.28H155.36M150.36 410.38H155.36" stroke="#4a4a4a" stroke-width="0.9" fill="none"/>
<path d="M196.49 406.01V419.11M193.99 406.01H198.99M193.99 419.11H198.99" stroke="#4a4a4a" stroke-width="0.9" fill="none"/>
<path d="M240.12 399.46V412.56M237.62 399.46H242.62M237.62 412.56H242.62" stroke="#4a4a4a" stroke-width="0.9" fill="none"/>
<path d="M283.75 405.58V417.36M281.25 405.58H286.25M281.25 417.36H286.25" stroke="#4a4a4a" stroke-width="0.9" fill="none"/>
<path d="M65.60 358.86V380.69M63.10 358.86H68.10M63.10 380.69H68.10" stroke="#4a4a4a" stroke-width="0.9" fill="none"/>
<path d="M109.23 373.05V394.88M106.73 373.05H111.73M106.73 394.88H111.73" stroke="#4a4a4a" stroke-width="0.9" fill="none"/>
<path d="M152.86 368.68V390.51M150.36 368.68H155.36M150.36 390.51H155.36" stroke="#4a4a4a" stroke-width="0.9" fill="none"/>
<path d="M196.49 369.12V390.95M193.99 369.12H198.99M193.99 390.95H198.99" stroke="#4a4a4a" stroke-width="0.9" fill="none"/>
<path d="M240.12 366.93V388.77M237.62 366.93H242.62M237.62 388.77H242.62" stroke="#4a4a4a" stroke-width="0.9" fill="none"/>
<path d="M283.75 371.08V392.91M281.25 371.08H286.25M281.25 392.91H286.25" stroke="#4a4a4a" stroke-width="0.9" fill="none"/>
<path d="M65.60 364.75V390.95M63.10 364.75H68.10M63.10 390.95H68.10" stroke="#4a4a4a" stroke-width="0.9" fill="none"/>
<path d="M109.23 353.40V379.60M106.73 353.40H111.73M106.73 379.60H111.73" stroke="#4a4a4a" stroke-width="0.9" fill="none"/>
<path d="M152.86 335.06V365.62M150.36 335.06H155.36M150.36 365.62H155.36" stroke="#4a4a4a" stroke-width="0.9" fill="none"/>
<path d="M196.49 338.12V368.68M193.99 338.12H198.99M193.99 368.68H198.99" stroke="#4a4a4a" stroke-width="0.9" fill="none"/>
<path d="M240.12 339.21V369.77M237.62 339.21H242.62M237.62 369.77H242.62" stroke="#4a4a4a" stroke-width="0.9" fill="none"/>
<path d="M283.75 339.21V369.77M281.25 339.21H286.25M281.25 369.77H286.25" stroke="#4a4a4a" stroke-width="0.9" fill="none"/>
<path d="M65.60 376.98V403.17M63.10 376.98H68.10M63.10 403.17H68.10" stroke="#4a4a4a" stroke-width="0.9" fill="none"/>
<path d="M109.23 371.30V393.13M106.73 371.30H111.73M106.73 393.13H111.73" stroke="#4a4a4a" stroke-width="0.9" fill="none"/>
<path d="M152.86 358.42V384.62M150.36 358.42H155.36M150.36 384.62H155.36" stroke="#4a4a4a" stroke-width="0.9" fill="none"/>
<path d="M196.49 352.96V379.16M193.99 352.96H198.99M193.99 379.16H198.99" stroke="#4a4a4a" stroke-width="0.9" fill="none"/>
<path d="M240.12 341.39V367.59M237.62 341.39H242.62M237.62 367.59H242.62" stroke="#4a4a4a" stroke-width="0.9" fill="none"/>
<path d="M283.75 347.50V373.70M281.25 347.50H286.25M281.25 373.70H286.25" stroke="#4a4a4a" stroke-width="0.9" fill="none"/>
<path d="M65.60 379.16V400.99M63.10 379.16H68.10M63.10 400.99H68.10" stroke="#4a4a4a" stroke-width="0.9" fill="none"/>
<path d="M109.23 374.58V396.41M106.73 374.58H111.73M106.73 396.41H111.73" stroke="#4a4a4a" stroke-width="0.9" fill="none"/>
<path d="M152.86 359.95V386.15M150.36 359.95H155.36M150.36 386.15H155.36" stroke="#4a4a4a" stroke-width="0.9" fill="none"/>
<path d="M196.49 331.46V394.77M193.99 331.46H198.99M193.99 394.77H198.99" stroke="#4a4a4a" stroke-width="0.9" fill="none"/>
<path d="M240.12 358.42V384.62M237.62 358.42H242.62M237.62 384.62H242.62" stroke="#4a4a4a" stroke-width="0.9" fill="none"/>
<path d="M283.75 362.57V388.77M281.25 362.57H286.25M281.25 388.77H286.25" stroke="#4a4a4a" stroke-width="0.9" fill="none"/>
<path d="M65.60 354.49V380.69M63.10 354.49H68.10M63.10 380.69H68.10" stroke="#4a4a4a" stroke-width="0.9" fill="none"/>
<path d="M109.23 342.27V372.83M106.73 342.27H111.73M106.73 372.83H111.73" stroke="#4a4a4a" stroke-width="0.9" fill="none"/>
<path d="M152.86 319.78V354.71M150.36 319.78H155.36M150.36 354.71H155.36" stroke="#4a4a4a" stroke-width="0.9" fill="none"/>
<path d="M196.49 288.78V338.55M193.99 288.78H198.99M193.99 338.55H198.99" stroke="#4a4a4a" stroke-width="0.9" fill="none"/>
<path d="M240.12 306.68V345.98M237.62 306.68H242.62M237.62 345.98H242.62" stroke="#4a4a4a" stroke-width="0.9" fill="none"/>
<path d="M283.75 324.36V359.29M281.25 324.36H286.25M281.25 359.29H286.25" stroke="#4a4a4a" stroke-width="0.9" fill="none"/>
<path d="M65.60 331.57V370.86M63.10 331.57H68.10M63.10 370.86H68.10" stroke="#4a4a4a" stroke-width="0.9" fill="none"/>
<path d="M109.23 323.71V363.00M106.73 323.71H111.73M106.73 363.00H111.73" stroke="#4a4a4a" stroke-width="0.9" fill="none"/>
<path d="M152.86 308.86V348.16M150.36 308.86H155.36M150.36 348.16H155.36" stroke="#4a4a4a" stroke-width="0.9" fill="none"/>
<path d="M196.49 278.52V321.31M193.99 278.52H198.99M193.99 321.31H198.99" stroke="#4a4a4a" stroke-width="0.9" fill="none"/>
<path d="M240.12 280.05V325.89M237.62 280.05H242.62M237.62 325.89H242.62" stroke="#4a4a4a" stroke-width="0.9" fill="none"/>
<path d="M283.75 307.55V351.22M281.25 307.55H286.25M281.25 351.22H286.25" stroke="#4a4a4a" stroke-width="0.9" fill="none"/>
<polyline points="65.60,390.08 109.23,403.17 152.86,403.83 196.49,412.56 240.12,406.01 283.75,411.47" stroke="#3a3a3a" stroke-width="0.9" fill="none"/>
<polyline points="65.60,369.77 109.23,383.96 152.86,379.60 196.49,380.03 240.12,377.85 283.75,382.00" stroke="#3a3a3a" stroke-width="0.9" fill="none"/>
<polyline points="65.60,377.85 109.23,366.50 152.86,350.34 196.49,353.40 240.12,354.49 283.75,354.49" stroke="#3a3a3a" stroke-width="0.9" fill="none"/>
<polyline points="65.60,390.08 109.23,382.22 152.86,371.52 196.49,366.06 240.12,354.49 283.75,360.60" stroke="#3a3a3a" stroke-width="0.9" fill="none"/>
<polyline points="65.60,390.08 109.23,385.49 152.86,373.05 196.49,363.11 240.12,371.52 283.75,375.67" stroke="#3a3a3a" stroke-width="0.9" fill="none"/>
<polyline points="65.60,367.59 109.23,357.55 152.86,337.24 196.49,313.67 240.12,326.33 283.75,341.83" stroke="#3a3a3a" stroke-width="0.9" fill="none"/>
<polyline points="65.60,351.22 109.23,343.36 152.86,328.51 196.49,299.91 240.12,302.97 283.75,329.38" stroke="#3a3a3a" stroke-width="0.9" fill="none"/>
<circle cx="65.60" cy="390.08" r="2.70" fill="#000" stroke="#000" stroke-width="0.6"/>
<circle cx="109.23" cy="403.17" r="2.70" fill="#000" stroke="#000" stroke-width="0.6"/>
<circle cx="152.86" cy="403.83" r="2.70" fill="#000" stroke="#000" stroke-width="0.6"/>
<circle cx="196.49" cy="412.56" r="2.70" fill="#000" stroke="#000" stroke-width="0.6"/>
<circle cx="240.12" cy="406.01" r="2.70" fill="#000" stroke="#000" stroke-width="0.6"/>
<circle cx="283.75" cy="411.47" r="2.70" fill="#000" stroke="#000" stroke-width="0.6"/>
<rect x="63.40" y="367.57" width="4.40" height="4.40" fill="#5a5a5a" stroke="#222" stroke-width="0.7"/>
<rect x="107.03" y="381.76" width="4.40" height="4.40" fill="#5a5a5a" stroke="#222" stroke-width="0.7"/>
<rect x="150.66" y="377.40" width="4.40" height="4.40" fill="#5a5a5a" stroke="#222" stroke-width="0.7"/>
<rect x="194.29" y="377.83" width="4.40" height="4.40" fill="#5a5a5a" stroke="#222" stroke-width="0.7"/>
<rect x="237.92" y="375.65" width="4.40" height="4.40" fill="#5a5a5a" stroke="#222" stroke-width="0.7"/>
<rect x="281.55" y="379.80" width="4.40" height="4.40" fill="#5a5a5a" stroke="#222" stroke-width="0.7"/>
<path d="M65.60 374.55L68.90 377.85L65.60 381.15L62.30 377.85Z" fill="#999" stroke="#222" stroke-width="0.9"/>
<path d="M109.23 363.20L112.53 366.50L109.23 369.80L105.93 366.50Z" fill="#999" stroke="#222" stroke-width="0.9"/>
<path d="M152.86 347.04L156.16 350.34L152.86 353.64L149.56 350.34Z" fill="#999" stroke="#222" stroke-width="0.9"/>
<path d="M196.49 350.10L199.79 353.40L196.49 356.70L193.19 353.40Z" fill="#999" stroke="#222" stroke-width="0.9"/>
<path d="M240.12 351.19L243.42 354.49L240.12 357.79L236.82 354.49Z" fill="#999" stroke="#222" stroke-width="0.9"/>
<path d="M283.75 351.19L287.05 354.49L283.75 357.79L280.45 354.49Z" fill="#999" stroke="#222" stroke-width="0.9"/>
<path d="M65.60 388.08L66.30 389.38L67.60 390.08L66.30 390.78L65.60 392.08L64.90 390.78L63.60 390.08L64.90 389.38Z" fill="#000"/>
<path d="M109.23 380.22L109.93 381.52L111.23 382.22L109.93 382.92L109.23 384.22L108.53 382.92L107.23 382.22L108.53 381.52Z" fill="#000"/>
<path d="M152.86 369.52L153.56 370.82L154.86 371.52L153.56 372.22L152.86 373.52L152.16 372.22L150.86 371.52L152.16 370.82Z" fill="#000"/>
<path d="M196.49 364.06L197.19 365.36L198.49 366.06L197.19 366.76L196.49 368.06L195.79 366.76L194.49 366.06L195.79 365.36Z" fill="#000"/>
<path d="M240.12 352.49L240.82 353.79L242.12 354.49L240.82 355.19L240.12 356.49L239.42 355.19L238.12 354.49L239.42 353.79Z" fill="#000"/>
<path d="M283.75 358.60L284.45 359.90L285.75 360.60L284.45 361.30L283.75 362.60L283.05 361.30L281.75 360.60L283.05 359.90Z" fill="#000"/>
<circle cx="65.60" cy="390.08" r="2.75" fill="#c4c4c4" stroke="#222" stroke-width="1.0"/>
<circle cx="109.23" cy="385.49" r="2.75" fill="#c4c4c4" stroke="#222" stroke-width="1.0"/>
<circle cx="152.86" cy="373.05" r="2.75" fill="#c4c4c4" stroke="#222" stroke-width="1.0"/>
<circle cx="196.49" cy="363.11" r="2.75" fill="#c4c4c4" stroke="#222" stroke-width="1.0"/>
<circle cx="240.12" cy="371.52" r="2.75" fill="#c4c4c4" stroke="#222" stroke-width="1.0"/>
<circle cx="283.75" cy="375.67" r="2.75" fill="#c4c4c4" stroke="#222" stroke-width="1.0"/>
<polygon points="65.60,364.59 66.36,366.54 68.45,366.66 66.84,367.99 67.36,370.02 65.60,368.89 63.84,370.02 64.36,367.99 62.75,366.66 64.84,366.54" fill="#fff" stroke="#222" stroke-width="0.8"/>
<polygon points="109.23,354.55 109.99,356.50 112.08,356.62 110.47,357.95 110.99,359.97 109.23,358.85 107.47,359.97 107.99,357.95 106.38,356.62 108.47,356.50" fill="#fff" stroke="#222" stroke-width="0.8"/>
<polygon points="152.86,334.24 153.62,336.19 155.71,336.32 154.10,337.65 154.62,339.67 152.86,338.54 151.10,339.67 151.62,337.65 150.01,336.32 152.10,336.19" fill="#fff" stroke="#222" stroke-width="0.8"/>
<polygon points="196.49,310.67 197.25,312.61 199.34,312.74 197.73,314.07 198.25,316.09 196.49,314.97 194.73,316.09 195.25,314.07 193.64,312.74 195.73,312.61" fill="#fff" stroke="#222" stroke-width="0.8"/>
<polygon points="240.12,323.33 240.88,325.28 242.97,325.40 241.36,326.73 241.88,328.76 240.12,327.63 238.36,328.76 238.88,326.73 237.27,325.40 239.36,325.28" fill="#fff" stroke="#222" stroke-width="0.8"/>
<polygon points="283.75,338.83 284.51,340.78 286.60,340.90 284.99,342.23 285.51,344.26 283.75,343.13 281.99,344.26 282.51,342.23 280.90,340.90 282.99,340.78" fill="#fff" stroke="#222" stroke-width="0.8"/>
<path d="M65.60 348.32L68.35 352.82L62.85 352.82Z" fill="#fff" stroke="#222" stroke-width="0.8"/>
<path d="M109.23 340.46L111.98 344.96L106.48 344.96Z" fill="#fff" stroke="#222" stroke-width="0.8"/>
<path d="M152.86 325.61L155.61 330.11L150.11 330.11Z" fill="#fff" stroke="#222" stroke-width="0.8"/>
<path d="M196.49 297.01L199.24 301.51L193.74 301.51Z" fill="#fff" stroke="#222" stroke-width="0.8"/>
<path d="M240.12 300.07L242.87 304.57L237.37 304.57Z" fill="#fff" stroke="#222" stroke-width="0.8"/>
<path d="M283.75 326.48L286.50 330.98L281.00 330.98Z" fill="#fff" stroke="#222" stroke-width="0.8"/>
<g fill="#000"><path transform="translate(205.20,293.30) rotate(0)" d="M0 -0.3C-1.45 -2.0 -1.45 -5.50 0 -5.50C1.45 -5.50 1.45 -2.0 0 -0.3Z"/><path transform="translate(205.20,293.30) rotate(60)" d="M0 -0.3C-1.45 -2.0 -1.45 -5.50 0 -5.50C1.45 -5.50 1.45 -2.0 0 -0.3Z"/><path transform="translate(205.20,293.30) rotate(120)" d="M0 -0.3C-1.45 -2.0 -1.45 -5.50 0 -5.50C1.45 -5.50 1.45 -2.0 0 -0.3Z"/><path transform="translate(205.20,293.30) rotate(180)" d="M0 -0.3C-1.45 -2.0 -1.45 -5.50 0 -5.50C1.45 -5.50 1.45 -2.0 0 -0.3Z"/><path transform="translate(205.20,293.30) rotate(240)" d="M0 -0.3C-1.45 -2.0 -1.45 -5.50 0 -5.50C1.45 -5.50 1.45 -2.0 0 -0.3Z"/><path transform="translate(205.20,293.30) rotate(300)" d="M0 -0.3C-1.45 -2.0 -1.45 -5.50 0 -5.50C1.45 -5.50 1.45 -2.0 0 -0.3Z"/></g>
<g fill="#000"><path transform="translate(205.20,310.10) rotate(0)" d="M0 -0.3C-1.45 -2.0 -1.45 -5.50 0 -5.50C1.45 -5.50 1.45 -2.0 0 -0.3Z"/><path transform="translate(205.20,310.10) rotate(60)" d="M0 -0.3C-1.45 -2.0 -1.45 -5.50 0 -5.50C1.45 -5.50 1.45 -2.0 0 -0.3Z"/><path transform="translate(205.20,310.10) rotate(120)" d="M0 -0.3C-1.45 -2.0 -1.45 -5.50 0 -5.50C1.45 -5.50 1.45 -2.0 0 -0.3Z"/><path transform="translate(205.20,310.10) rotate(180)" d="M0 -0.3C-1.45 -2.0 -1.45 -5.50 0 -5.50C1.45 -5.50 1.45 -2.0 0 -0.3Z"/><path transform="translate(205.20,310.10) rotate(240)" d="M0 -0.3C-1.45 -2.0 -1.45 -5.50 0 -5.50C1.45 -5.50 1.45 -2.0 0 -0.3Z"/><path transform="translate(205.20,310.10) rotate(300)" d="M0 -0.3C-1.45 -2.0 -1.45 -5.50 0 -5.50C1.45 -5.50 1.45 -2.0 0 -0.3Z"/></g>
<g fill="#000"><path transform="translate(247.50,298.70) rotate(0)" d="M0 -0.3C-1.45 -2.0 -1.45 -5.50 0 -5.50C1.45 -5.50 1.45 -2.0 0 -0.3Z"/><path transform="translate(247.50,298.70) rotate(60)" d="M0 -0.3C-1.45 -2.0 -1.45 -5.50 0 -5.50C1.45 -5.50 1.45 -2.0 0 -0.3Z"/><path transform="translate(247.50,298.70) rotate(120)" d="M0 -0.3C-1.45 -2.0 -1.45 -5.50 0 -5.50C1.45 -5.50 1.45 -2.0 0 -0.3Z"/><path transform="translate(247.50,298.70) rotate(180)" d="M0 -0.3C-1.45 -2.0 -1.45 -5.50 0 -5.50C1.45 -5.50 1.45 -2.0 0 -0.3Z"/><path transform="translate(247.50,298.70) rotate(240)" d="M0 -0.3C-1.45 -2.0 -1.45 -5.50 0 -5.50C1.45 -5.50 1.45 -2.0 0 -0.3Z"/><path transform="translate(247.50,298.70) rotate(300)" d="M0 -0.3C-1.45 -2.0 -1.45 -5.50 0 -5.50C1.45 -5.50 1.45 -2.0 0 -0.3Z"/></g>
<g fill="#000"><path transform="translate(247.00,320.30) rotate(0)" d="M0 -0.3C-1.45 -2.0 -1.45 -5.50 0 -5.50C1.45 -5.50 1.45 -2.0 0 -0.3Z"/><path transform="translate(247.00,320.30) rotate(60)" d="M0 -0.3C-1.45 -2.0 -1.45 -5.50 0 -5.50C1.45 -5.50 1.45 -2.0 0 -0.3Z"/><path transform="translate(247.00,320.30) rotate(120)" d="M0 -0.3C-1.45 -2.0 -1.45 -5.50 0 -5.50C1.45 -5.50 1.45 -2.0 0 -0.3Z"/><path transform="translate(247.00,320.30) rotate(180)" d="M0 -0.3C-1.45 -2.0 -1.45 -5.50 0 -5.50C1.45 -5.50 1.45 -2.0 0 -0.3Z"/><path transform="translate(247.00,320.30) rotate(240)" d="M0 -0.3C-1.45 -2.0 -1.45 -5.50 0 -5.50C1.45 -5.50 1.45 -2.0 0 -0.3Z"/><path transform="translate(247.00,320.30) rotate(300)" d="M0 -0.3C-1.45 -2.0 -1.45 -5.50 0 -5.50C1.45 -5.50 1.45 -2.0 0 -0.3Z"/></g>
<path d="M356.60 258.90H359.10V433.50H356.60" stroke="#4a4a4a" stroke-width="1.15" fill="none"/>
<path d="M356.60 433.50H359.10" stroke="#4a4a4a" stroke-width="1.15"/>
<text x="351.20" y="438.00" text-anchor="end" font-family='"Liberation Sans", sans-serif' font-weight="bold" font-size="11">1.20</text>
<path d="M356.60 375.30H359.10" stroke="#4a4a4a" stroke-width="1.15"/>
<text x="351.20" y="379.80" text-anchor="end" font-family='"Liberation Sans", sans-serif' font-weight="bold" font-size="11">1.35</text>
<path d="M356.60 317.10H359.10" stroke="#4a4a4a" stroke-width="1.15"/>
<text x="351.20" y="321.60" text-anchor="end" font-family='"Liberation Sans", sans-serif' font-weight="bold" font-size="11">1.50</text>
<path d="M356.60 258.90H359.10" stroke="#4a4a4a" stroke-width="1.15"/>
<text x="351.20" y="263.40" text-anchor="end" font-family='"Liberation Sans", sans-serif' font-weight="bold" font-size="11">1.65</text>
<path d="M365.20 433.50H605.40" stroke="#4a4a4a" stroke-width="1.15"/>
<path d="M375.40 433.50V436.80" stroke="#444" stroke-width="1.1"/>
<text x="375.70" y="451.50" text-anchor="middle" font-family='"Liberation Sans", sans-serif' font-weight="bold" font-size="11">1</text>
<path d="M419.13 433.50V436.80" stroke="#444" stroke-width="1.1"/>
<text x="419.43" y="451.50" text-anchor="middle" font-family='"Liberation Sans", sans-serif' font-weight="bold" font-size="11">2</text>
<path d="M462.86 433.50V436.80" stroke="#444" stroke-width="1.1"/>
<text x="463.16" y="451.50" text-anchor="middle" font-family='"Liberation Sans", sans-serif' font-weight="bold" font-size="11">3</text>
<path d="M506.59 433.50V436.80" stroke="#444" stroke-width="1.1"/>
<text x="506.89" y="451.50" text-anchor="middle" font-family='"Liberation Sans", sans-serif' font-weight="bold" font-size="11">4</text>
<path d="M550.32 433.50V436.80" stroke="#444" stroke-width="1.1"/>
<text x="550.62" y="451.50" text-anchor="middle" font-family='"Liberation Sans", sans-serif' font-weight="bold" font-size="11">5</text>
<path d="M594.05 433.50V436.80" stroke="#444" stroke-width="1.1"/>
<text x="594.35" y="451.50" text-anchor="middle" font-family='"Liberation Sans", sans-serif' font-weight="bold" font-size="11">6</text>
<text x="485.30" y="477.00" text-anchor="middle" font-family='"Liberation Sans", sans-serif' font-weight="bold" font-size="13.9">Time Block (10 min)</text>
<text transform="translate(322.00,346.25) rotate(-90)" text-anchor="middle" font-family='"Liberation Sans", sans-serif' font-weight="bold" font-size="13.9">Spatial d</text>
<text x="326.00" y="252.00" font-family='"Liberation Sans", sans-serif' font-size="19.5">D</text>
<path d="M375.40 310.50V333.78M372.90 310.50H377.90M372.90 333.78H377.90" stroke="#4a4a4a" stroke-width="0.9" fill="none"/>
<path d="M419.13 278.69V323.70M416.63 278.69H421.63M416.63 323.70H421.63" stroke="#4a4a4a" stroke-width="0.9" fill="none"/>
<path d="M462.86 295.95V332.43M460.36 295.95H465.36M460.36 332.43H465.36" stroke="#4a4a4a" stroke-width="0.9" fill="none"/>
<path d="M506.59 263.17V315.94M504.09 263.17H509.09M504.09 315.94H509.09" stroke="#4a4a4a" stroke-width="0.9" fill="none"/>
<path d="M550.32 294.98V359.39M547.82 294.98H552.82M547.82 359.39H552.82" stroke="#4a4a4a" stroke-width="0.9" fill="none"/>
<path d="M594.05 316.32V367.54M591.55 316.32H596.55M591.55 367.54H596.55" stroke="#4a4a4a" stroke-width="0.9" fill="none"/>
<path d="M375.40 303.33V332.81M372.90 303.33H377.90M372.90 332.81H377.90" stroke="#4a4a4a" stroke-width="0.9" fill="none"/>
<path d="M419.13 268.99V317.88M416.63 268.99H421.63M416.63 317.88H421.63" stroke="#4a4a4a" stroke-width="0.9" fill="none"/>
<path d="M462.86 341.16V372.20M460.36 341.16H465.36M460.36 372.20H465.36" stroke="#4a4a4a" stroke-width="0.9" fill="none"/>
<path d="M506.59 326.02V364.82M504.09 326.02H509.09M504.09 364.82H509.09" stroke="#4a4a4a" stroke-width="0.9" fill="none"/>
<path d="M550.32 331.84V370.64M547.82 331.84H552.82M547.82 370.64H552.82" stroke="#4a4a4a" stroke-width="0.9" fill="none"/>
<path d="M594.05 345.04V376.08M591.55 345.04H596.55M591.55 376.08H596.55" stroke="#4a4a4a" stroke-width="0.9" fill="none"/>
<path d="M375.40 314.77V338.05M372.90 314.77H377.90M372.90 338.05H377.90" stroke="#4a4a4a" stroke-width="0.9" fill="none"/>
<path d="M419.13 338.05V357.45M416.63 338.05H421.63M416.63 357.45H421.63" stroke="#4a4a4a" stroke-width="0.9" fill="none"/>
<path d="M462.86 324.86V344.26M460.36 324.86H465.36M460.36 344.26H465.36" stroke="#4a4a4a" stroke-width="0.9" fill="none"/>
<path d="M506.59 311.28V350.08M504.09 311.28H509.09M504.09 350.08H509.09" stroke="#4a4a4a" stroke-width="0.9" fill="none"/>
<path d="M550.32 326.80V365.60M547.82 326.80H552.82M547.82 365.60H552.82" stroke="#4a4a4a" stroke-width="0.9" fill="none"/>
<path d="M594.05 345.04V376.08M591.55 345.04H596.55M591.55 376.08H596.55" stroke="#4a4a4a" stroke-width="0.9" fill="none"/>
<path d="M375.40 343.87V374.91M372.90 343.87H377.90M372.90 374.91H377.90" stroke="#4a4a4a" stroke-width="0.9" fill="none"/>
<path d="M419.13 375.69V398.97M416.63 375.69H421.63M416.63 398.97H421.63" stroke="#4a4a4a" stroke-width="0.9" fill="none"/>
<path d="M462.86 383.45V406.73M460.36 383.45H465.36M460.36 406.73H465.36" stroke="#4a4a4a" stroke-width="0.9" fill="none"/>
<path d="M506.59 379.96V403.24M504.09 379.96H509.09M504.09 403.24H509.09" stroke="#4a4a4a" stroke-width="0.9" fill="none"/>
<path d="M550.32 380.34V403.62M547.82 380.34H552.82M547.82 403.62H552.82" stroke="#4a4a4a" stroke-width="0.9" fill="none"/>
<path d="M594.05 369.87V397.03M591.55 369.87H596.55M591.55 397.03H596.55" stroke="#4a4a4a" stroke-width="0.9" fill="none"/>
<path d="M375.40 320.98V344.26M372.90 320.98H377.90M372.90 344.26H377.90" stroke="#4a4a4a" stroke-width="0.9" fill="none"/>
<path d="M419.13 360.17V383.45M416.63 360.17H421.63M416.63 383.45H421.63" stroke="#4a4a4a" stroke-width="0.9" fill="none"/>
<path d="M462.86 368.70V391.98M460.36 368.70H465.36M460.36 391.98H465.36" stroke="#4a4a4a" stroke-width="0.9" fill="none"/>
<path d="M506.59 363.27V386.55M504.09 363.27H509.09M504.09 386.55H509.09" stroke="#4a4a4a" stroke-width="0.9" fill="none"/>
<path d="M550.32 367.15V390.43M547.82 367.15H552.82M547.82 390.43H552.82" stroke="#4a4a4a" stroke-width="0.9" fill="none"/>
<path d="M594.05 362.88V386.16M591.55 362.88H596.55M591.55 386.16H596.55" stroke="#4a4a4a" stroke-width="0.9" fill="none"/>
<path d="M375.40 342.32V377.24M372.90 342.32H377.90M372.90 377.24H377.90" stroke="#4a4a4a" stroke-width="0.9" fill="none"/>
<path d="M419.13 372.97V396.25M416.63 372.97H421.63M416.63 396.25H421.63" stroke="#4a4a4a" stroke-width="0.9" fill="none"/>
<path d="M462.86 384.22V407.50M460.36 384.22H465.36M460.36 407.50H465.36" stroke="#4a4a4a" stroke-width="0.9" fill="none"/>
<path d="M506.59 369.48V392.76M504.09 369.48H509.09M504.09 392.76H509.09" stroke="#4a4a4a" stroke-width="0.9" fill="none"/>
<path d="M550.32 360.94V384.22M547.82 360.94H552.82M547.82 384.22H552.82" stroke="#4a4a4a" stroke-width="0.9" fill="none"/>
<path d="M594.05 359.39V382.67M591.55 359.39H596.55M591.55 382.67H596.55" stroke="#4a4a4a" stroke-width="0.9" fill="none"/>
<path d="M375.40 358.62V377.24M372.90 358.62H377.90M372.90 377.24H377.90" stroke="#4a4a4a" stroke-width="0.9" fill="none"/>
<path d="M419.13 378.79V402.07M416.63 378.79H421.63M416.63 402.07H421.63" stroke="#4a4a4a" stroke-width="0.9" fill="none"/>
<path d="M462.86 384.61V407.89M460.36 384.61H465.36M460.36 407.89H465.36" stroke="#4a4a4a" stroke-width="0.9" fill="none"/>
<path d="M506.59 385.00V408.28M504.09 385.00H509.09M504.09 408.28H509.09" stroke="#4a4a4a" stroke-width="0.9" fill="none"/>
<path d="M550.32 374.14V403.62M547.82 374.14H552.82M547.82 403.62H552.82" stroke="#4a4a4a" stroke-width="0.9" fill="none"/>
<path d="M594.05 381.90V397.42M591.55 381.90H596.55M591.55 397.42H596.55" stroke="#4a4a4a" stroke-width="0.9" fill="none"/>
<polyline points="375.40,322.14 419.13,301.19 462.86,314.19 506.59,289.55 550.32,327.19 594.05,341.93" stroke="#3a3a3a" stroke-width="0.9" fill="none"/>
<polyline points="375.40,318.07 419.13,293.43 462.86,356.68 506.59,345.42 550.32,351.24 594.05,360.56" stroke="#3a3a3a" stroke-width="0.9" fill="none"/>
<polyline points="375.40,326.41 419.13,347.75 462.86,334.56 506.59,330.68 550.32,346.20 594.05,360.56" stroke="#3a3a3a" stroke-width="0.9" fill="none"/>
<polyline points="375.40,359.39 419.13,387.33 462.86,395.09 506.59,391.60 550.32,391.98 594.05,383.45" stroke="#3a3a3a" stroke-width="0.9" fill="none"/>
<polyline points="375.40,332.62 419.13,371.81 462.86,380.34 506.59,374.91 550.32,378.79 594.05,374.52" stroke="#3a3a3a" stroke-width="0.9" fill="none"/>
<polyline points="375.40,359.78 419.13,384.61 462.86,395.86 506.59,381.12 550.32,372.58 594.05,371.03" stroke="#3a3a3a" stroke-width="0.9" fill="none"/>
<polyline points="375.40,367.93 419.13,390.43 462.86,396.25 506.59,396.64 550.32,388.88 594.05,389.66" stroke="#3a3a3a" stroke-width="0.9" fill="none"/>
<circle cx="375.40" cy="322.14" r="2.70" fill="#000" stroke="#000" stroke-width="0.6"/>
<circle cx="419.13" cy="301.19" r="2.70" fill="#000" stroke="#000" stroke-width="0.6"/>
<circle cx="462.86" cy="314.19" r="2.70" fill="#000" stroke="#000" stroke-width="0.6"/>
<circle cx="506.59" cy="289.55" r="2.70" fill="#000" stroke="#000" stroke-width="0.6"/>
<circle cx="550.32" cy="327.19" r="2.70" fill="#000" stroke="#000" stroke-width="0.6"/>
<circle cx="594.05" cy="341.93" r="2.70" fill="#000" stroke="#000" stroke-width="0.6"/>
<rect x="373.20" y="315.87" width="4.40" height="4.40" fill="#5a5a5a" stroke="#222" stroke-width="0.7"/>
<rect x="416.93" y="291.23" width="4.40" height="4.40" fill="#5a5a5a" stroke="#222" stroke-width="0.7"/>
<rect x="460.66" y="354.48" width="4.40" height="4.40" fill="#5a5a5a" stroke="#222" stroke-width="0.7"/>
<rect x="504.39" y="343.22" width="4.40" height="4.40" fill="#5a5a5a" stroke="#222" stroke-width="0.7"/>
<rect x="548.12" y="349.04" width="4.40" height="4.40" fill="#5a5a5a" stroke="#222" stroke-width="0.7"/>
<rect x="591.85" y="358.36" width="4.40" height="4.40" fill="#5a5a5a" stroke="#222" stroke-width="0.7"/>
<path d="M375.40 323.11L378.70 326.41L375.40 329.71L372.10 326.41Z" fill="#999" stroke="#222" stroke-width="0.9"/>
<path d="M419.13 344.45L422.43 347.75L419.13 351.05L415.83 347.75Z" fill="#999" stroke="#222" stroke-width="0.9"/>
<path d="M462.86 331.26L466.16 334.56L462.86 337.86L459.56 334.56Z" fill="#999" stroke="#222" stroke-width="0.9"/>
<path d="M506.59 327.38L509.89 330.68L506.59 333.98L503.29 330.68Z" fill="#999" stroke="#222" stroke-width="0.9"/>
<path d="M550.32 342.90L553.62 346.20L550.32 349.50L547.02 346.20Z" fill="#999" stroke="#222" stroke-width="0.9"/>
<path d="M594.05 357.26L597.35 360.56L594.05 363.86L590.75 360.56Z" fill="#999" stroke="#222" stroke-width="0.9"/>
<path d="M375.40 357.39L376.10 358.69L377.40 359.39L376.10 360.09L375.40 361.39L374.70 360.09L373.40 359.39L374.70 358.69Z" fill="#000"/>
<path d="M419.13 385.33L419.83 386.63L421.13 387.33L419.83 388.03L419.13 389.33L418.43 388.03L417.13 387.33L418.43 386.63Z" fill="#000"/>
<path d="M462.86 393.09L463.56 394.39L464.86 395.09L463.56 395.79L462.86 397.09L462.16 395.79L460.86 395.09L462.16 394.39Z" fill="#000"/>
<path d="M506.59 389.60L507.29 390.90L508.59 391.60L507.29 392.30L506.59 393.60L505.89 392.30L504.59 391.60L505.89 390.90Z" fill="#000"/>
<path d="M550.32 389.98L551.02 391.28L552.32 391.98L551.02 392.68L550.32 393.98L549.62 392.68L548.32 391.98L549.62 391.28Z" fill="#000"/>
<path d="M594.05 381.45L594.75 382.75L596.05 383.45L594.75 384.15L594.05 385.45L593.35 384.15L592.05 383.45L593.35 382.75Z" fill="#000"/>
<circle cx="375.40" cy="332.62" r="2.75" fill="#c4c4c4" stroke="#222" stroke-width="1.0"/>
<circle cx="419.13" cy="371.81" r="2.75" fill="#c4c4c4" stroke="#222" stroke-width="1.0"/>
<circle cx="462.86" cy="380.34" r="2.75" fill="#c4c4c4" stroke="#222" stroke-width="1.0"/>
<circle cx="506.59" cy="374.91" r="2.75" fill="#c4c4c4" stroke="#222" stroke-width="1.0"/>
<circle cx="550.32" cy="378.79" r="2.75" fill="#c4c4c4" stroke="#222" stroke-width="1.0"/>
<circle cx="594.05" cy="374.52" r="2.75" fill="#c4c4c4" stroke="#222" stroke-width="1.0"/>
<polygon points="375.40,356.78 376.16,358.73 378.25,358.85 376.64,360.18 377.16,362.21 375.40,361.08 373.64,362.21 374.16,360.18 372.55,358.85 374.64,358.73" fill="#fff" stroke="#222" stroke-width="0.8"/>
<polygon points="419.13,381.61 419.89,383.56 421.98,383.68 420.37,385.01 420.89,387.04 419.13,385.91 417.37,387.04 417.89,385.01 416.28,383.68 418.37,383.56" fill="#fff" stroke="#222" stroke-width="0.8"/>
<polygon points="462.86,392.86 463.62,394.81 465.71,394.94 464.10,396.27 464.62,398.29 462.86,397.16 461.10,398.29 461.62,396.27 460.01,394.94 462.10,394.81" fill="#fff" stroke="#222" stroke-width="0.8"/>
<polygon points="506.59,378.12 507.35,380.07 509.44,380.19 507.83,381.52 508.35,383.55 506.59,382.42 504.83,383.55 505.35,381.52 503.74,380.19 505.83,380.07" fill="#fff" stroke="#222" stroke-width="0.8"/>
<polygon points="550.32,369.58 551.08,371.53 553.17,371.66 551.56,372.99 552.08,375.01 550.32,373.88 548.56,375.01 549.08,372.99 547.47,371.66 549.56,371.53" fill="#fff" stroke="#222" stroke-width="0.8"/>
<polygon points="594.05,368.03 594.81,369.98 596.90,370.10 595.29,371.43 595.81,373.46 594.05,372.33 592.29,373.46 592.81,371.43 591.20,370.10 593.29,369.98" fill="#fff" stroke="#222" stroke-width="0.8"/>
<path d="M375.40 365.03L378.15 369.53L372.65 369.53Z" fill="#fff" stroke="#222" stroke-width="0.8"/>
<path d="M419.13 387.53L421.88 392.03L416.38 392.03Z" fill="#fff" stroke="#222" stroke-width="0.8"/>
<path d="M462.86 393.35L465.61 397.85L460.11 397.85Z" fill="#fff" stroke="#222" stroke-width="0.8"/>
<path d="M506.59 393.74L509.34 398.24L503.84 398.24Z" fill="#fff" stroke="#222" stroke-width="0.8"/>
<path d="M550.32 385.98L553.07 390.48L547.57 390.48Z" fill="#fff" stroke="#222" stroke-width="0.8"/>
<path d="M594.05 386.76L596.80 391.26L591.30 391.26Z" fill="#fff" stroke="#222" stroke-width="0.8"/>
<g fill="#000"><path transform="translate(426.20,366.70) rotate(0)" d="M0 -0.3C-1.45 -2.0 -1.45 -5.50 0 -5.50C1.45 -5.50 1.45 -2.0 0 -0.3Z"/><path transform="translate(426.20,366.70) rotate(60)" d="M0 -0.3C-1.45 -2.0 -1.45 -5.50 0 -5.50C1.45 -5.50 1.45 -2.0 0 -0.3Z"/><path transform="translate(426.20,366.70) rotate(120)" d="M0 -0.3C-1.45 -2.0 -1.45 -5.50 0 -5.50C1.45 -5.50 1.45 -2.0 0 -0.3Z"/><path transform="translate(426.20,366.70) rotate(180)" d="M0 -0.3C-1.45 -2.0 -1.45 -5.50 0 -5.50C1.45 -5.50 1.45 -2.0 0 -0.3Z"/><path transform="translate(426.20,366.70) rotate(240)" d="M0 -0.3C-1.45 -2.0 -1.45 -5.50 0 -5.50C1.45 -5.50 1.45 -2.0 0 -0.3Z"/><path transform="translate(426.20,366.70) rotate(300)" d="M0 -0.3C-1.45 -2.0 -1.45 -5.50 0 -5.50C1.45 -5.50 1.45 -2.0 0 -0.3Z"/></g>
<g fill="#000"><path transform="translate(414.60,378.20) rotate(0)" d="M0 -0.3C-1.45 -2.0 -1.45 -5.50 0 -5.50C1.45 -5.50 1.45 -2.0 0 -0.3Z"/><path transform="translate(414.60,378.20) rotate(60)" d="M0 -0.3C-1.45 -2.0 -1.45 -5.50 0 -5.50C1.45 -5.50 1.45 -2.0 0 -0.3Z"/><path transform="translate(414.60,378.20) rotate(120)" d="M0 -0.3C-1.45 -2.0 -1.45 -5.50 0 -5.50C1.45 -5.50 1.45 -2.0 0 -0.3Z"/><path transform="translate(414.60,378.20) rotate(180)" d="M0 -0.3C-1.45 -2.0 -1.45 -5.50 0 -5.50C1.45 -5.50 1.45 -2.0 0 -0.3Z"/><path transform="translate(414.60,378.20) rotate(240)" d="M0 -0.3C-1.45 -2.0 -1.45 -5.50 0 -5.50C1.45 -5.50 1.45 -2.0 0 -0.3Z"/><path transform="translate(414.60,378.20) rotate(300)" d="M0 -0.3C-1.45 -2.0 -1.45 -5.50 0 -5.50C1.45 -5.50 1.45 -2.0 0 -0.3Z"/></g>
<g fill="#000"><path transform="translate(424.00,383.40) rotate(0)" d="M0 -0.3C-1.45 -2.0 -1.45 -5.50 0 -5.50C1.45 -5.50 1.45 -2.0 0 -0.3Z"/><path transform="translate(424.00,383.40) rotate(60)" d="M0 -0.3C-1.45 -2.0 -1.45 -5.50 0 -5.50C1.45 -5.50 1.45 -2.0 0 -0.3Z"/><path transform="translate(424.00,383.40) rotate(120)" d="M0 -0.3C-1.45 -2.0 -1.45 -5.50 0 -5.50C1.45 -5.50 1.45 -2.0 0 -0.3Z"/><path transform="translate(424.00,383.40) rotate(180)" d="M0 -0.3C-1.45 -2.0 -1.45 -5.50 0 -5.50C1.45 -5.50 1.45 -2.0 0 -0.3Z"/><path transform="translate(424.00,383.40) rotate(240)" d="M0 -0.3C-1.45 -2.0 -1.45 -5.50 0 -5.50C1.45 -5.50 1.45 -2.0 0 -0.3Z"/><path transform="translate(424.00,383.40) rotate(300)" d="M0 -0.3C-1.45 -2.0 -1.45 -5.50 0 -5.50C1.45 -5.50 1.45 -2.0 0 -0.3Z"/></g>
<g fill="#000"><path transform="translate(413.40,396.80) rotate(0)" d="M0 -0.3C-1.45 -2.0 -1.45 -5.50 0 -5.50C1.45 -5.50 1.45 -2.0 0 -0.3Z"/><path transform="translate(413.40,396.80) rotate(60)" d="M0 -0.3C-1.45 -2.0 -1.45 -5.50 0 -5.50C1.45 -5.50 1.45 -2.0 0 -0.3Z"/><path transform="translate(413.40,396.80) rotate(120)" d="M0 -0.3C-1.45 -2.0 -1.45 -5.50 0 -5.50C1.45 -5.50 1.45 -2.0 0 -0.3Z"/><path transform="translate(413.40,396.80) rotate(180)" d="M0 -0.3C-1.45 -2.0 -1.45 -5.50 0 -5.50C1.45 -5.50 1.45 -2.0 0 -0.3Z"/><path transform="translate(413.40,396.80) rotate(240)" d="M0 -0.3C-1.45 -2.0 -1.45 -5.50 0 -5.50C1.45 -5.50 1.45 -2.0 0 -0.3Z"/><path transform="translate(413.40,396.80) rotate(300)" d="M0 -0.3C-1.45 -2.0 -1.45 -5.50 0 -5.50C1.45 -5.50 1.45 -2.0 0 -0.3Z"/></g>
<g fill="#000"><path transform="translate(458.00,388.10) rotate(0)" d="M0 -0.3C-1.45 -2.0 -1.45 -5.50 0 -5.50C1.45 -5.50 1.45 -2.0 0 -0.3Z"/><path transform="translate(458.00,388.10) rotate(60)" d="M0 -0.3C-1.45 -2.0 -1.45 -5.50 0 -5.50C1.45 -5.50 1.45 -2.0 0 -0.3Z"/><path transform="translate(458.00,388.10) rotate(120)" d="M0 -0.3C-1.45 -2.0 -1.45 -5.50 0 -5.50C1.45 -5.50 1.45 -2.0 0 -0.3Z"/><path transform="translate(458.00,388.10) rotate(180)" d="M0 -0.3C-1.45 -2.0 -1.45 -5.50 0 -5.50C1.45 -5.50 1.45 -2.0 0 -0.3Z"/><path transform="translate(458.00,388.10) rotate(240)" d="M0 -0.3C-1.45 -2.0 -1.45 -5.50 0 -5.50C1.45 -5.50 1.45 -2.0 0 -0.3Z"/><path transform="translate(458.00,388.10) rotate(300)" d="M0 -0.3C-1.45 -2.0 -1.45 -5.50 0 -5.50C1.45 -5.50 1.45 -2.0 0 -0.3Z"/></g>
<g fill="#000"><path transform="translate(468.50,403.40) rotate(0)" d="M0 -0.3C-1.45 -2.0 -1.45 -5.50 0 -5.50C1.45 -5.50 1.45 -2.0 0 -0.3Z"/><path transform="translate(468.50,403.40) rotate(60)" d="M0 -0.3C-1.45 -2.0 -1.45 -5.50 0 -5.50C1.45 -5.50 1.45 -2.0 0 -0.3Z"/><path transform="translate(468.50,403.40) rotate(120)" d="M0 -0.3C-1.45 -2.0 -1.45 -5.50 0 -5.50C1.45 -5.50 1.45 -2.0 0 -0.3Z"/><path transform="translate(468.50,403.40) rotate(180)" d="M0 -0.3C-1.45 -2.0 -1.45 -5.50 0 -5.50C1.45 -5.50 1.45 -2.0 0 -0.3Z"/><path transform="translate(468.50,403.40) rotate(240)" d="M0 -0.3C-1.45 -2.0 -1.45 -5.50 0 -5.50C1.45 -5.50 1.45 -2.0 0 -0.3Z"/><path transform="translate(468.50,403.40) rotate(300)" d="M0 -0.3C-1.45 -2.0 -1.45 -5.50 0 -5.50C1.45 -5.50 1.45 -2.0 0 -0.3Z"/></g>
<g fill="#000"><path transform="translate(499.70,387.40) rotate(0)" d="M0 -0.3C-1.45 -2.0 -1.45 -5.50 0 -5.50C1.45 -5.50 1.45 -2.0 0 -0.3Z"/><path transform="translate(499.70,387.40) rotate(60)" d="M0 -0.3C-1.45 -2.0 -1.45 -5.50 0 -5.50C1.45 -5.50 1.45 -2.0 0 -0.3Z"/><path transform="translate(499.70,387.40) rotate(120)" d="M0 -0.3C-1.45 -2.0 -1.45 -5.50 0 -5.50C1.45 -5.50 1.45 -2.0 0 -0.3Z"/><path transform="translate(499.70,387.40) rotate(180)" d="M0 -0.3C-1.45 -2.0 -1.45 -5.50 0 -5.50C1.45 -5.50 1.45 -2.0 0 -0.3Z"/><path transform="translate(499.70,387.40) rotate(240)" d="M0 -0.3C-1.45 -2.0 -1.45 -5.50 0 -5.50C1.45 -5.50 1.45 -2.0 0 -0.3Z"/><path transform="translate(499.70,387.40) rotate(300)" d="M0 -0.3C-1.45 -2.0 -1.45 -5.50 0 -5.50C1.45 -5.50 1.45 -2.0 0 -0.3Z"/></g>
<g fill="#000"><path transform="translate(513.20,386.60) rotate(0)" d="M0 -0.3C-1.45 -2.0 -1.45 -5.50 0 -5.50C1.45 -5.50 1.45 -2.0 0 -0.3Z"/><path transform="translate(513.20,386.60) rotate(60)" d="M0 -0.3C-1.45 -2.0 -1.45 -5.50 0 -5.50C1.45 -5.50 1.45 -2.0 0 -0.3Z"/><path transform="translate(513.20,386.60) rotate(120)" d="M0 -0.3C-1.45 -2.0 -1.45 -5.50 0 -5.50C1.45 -5.50 1.45 -2.0 0 -0.3Z"/><path transform="translate(513.20,386.60) rotate(180)" d="M0 -0.3C-1.45 -2.0 -1.45 -5.50 0 -5.50C1.45 -5.50 1.45 -2.0 0 -0.3Z"/><path transform="translate(513.20,386.60) rotate(240)" d="M0 -0.3C-1.45 -2.0 -1.45 -5.50 0 -5.50C1.45 -5.50 1.45 -2.0 0 -0.3Z"/><path transform="translate(513.20,386.60) rotate(300)" d="M0 -0.3C-1.45 -2.0 -1.45 -5.50 0 -5.50C1.45 -5.50 1.45 -2.0 0 -0.3Z"/></g>
<g fill="#000"><path transform="translate(514.00,400.50) rotate(0)" d="M0 -0.3C-1.45 -2.0 -1.45 -5.50 0 -5.50C1.45 -5.50 1.45 -2.0 0 -0.3Z"/><path transform="translate(514.00,400.50) rotate(60)" d="M0 -0.3C-1.45 -2.0 -1.45 -5.50 0 -5.50C1.45 -5.50 1.45 -2.0 0 -0.3Z"/><path transform="translate(514.00,400.50) rotate(120)" d="M0 -0.3C-1.45 -2.0 -1.45 -5.50 0 -5.50C1.45 -5.50 1.45 -2.0 0 -0.3Z"/><path transform="translate(514.00,400.50) rotate(180)" d="M0 -0.3C-1.45 -2.0 -1.45 -5.50 0 -5.50C1.45 -5.50 1.45 -2.0 0 -0.3Z"/><path transform="translate(514.00,400.50) rotate(240)" d="M0 -0.3C-1.45 -2.0 -1.45 -5.50 0 -5.50C1.45 -5.50 1.45 -2.0 0 -0.3Z"/><path transform="translate(514.00,400.50) rotate(300)" d="M0 -0.3C-1.45 -2.0 -1.45 -5.50 0 -5.50C1.45 -5.50 1.45 -2.0 0 -0.3Z"/></g>
<path d="M371 17.95H389.4" stroke="#3a3a3a" stroke-width="0.9"/>
<circle cx="380.10" cy="17.95" r="2.70" fill="#000" stroke="#000" stroke-width="0.6"/>
<text x="394.2" y="21.15" font-family='"Liberation Sans", sans-serif' font-weight="bold" font-size="8.65">Vehicle</text>
<path d="M371 29.38H389.4" stroke="#3a3a3a" stroke-width="0.9"/>
<rect x="377.90" y="27.18" width="4.40" height="4.40" fill="#5a5a5a" stroke="#222" stroke-width="0.7"/>
<text x="394.2" y="32.58" font-family='"Liberation Sans", sans-serif' font-weight="bold" font-size="8.65">GBR 5</text>
<path d="M371 40.81H389.4" stroke="#3a3a3a" stroke-width="0.9"/>
<path d="M380.10 37.51L383.40 40.81L380.10 44.11L376.80 40.81Z" fill="#999" stroke="#222" stroke-width="0.9"/>
<text x="394.2" y="44.01" font-family='"Liberation Sans", sans-serif' font-weight="bold" font-size="8.65">GBR 9</text>
<path d="M371 52.24H389.4" stroke="#3a3a3a" stroke-width="0.9"/>
<path d="M380.10 50.24L380.80 51.54L382.10 52.24L380.80 52.94L380.10 54.24L379.40 52.94L378.10 52.24L379.40 51.54Z" fill="#000"/>
<text x="394.2" y="55.44" font-family='"Liberation Sans", sans-serif' font-weight="bold" font-size="8.65">GBR 10.9</text>
<path d="M371 63.67H389.4" stroke="#3a3a3a" stroke-width="0.9"/>
<circle cx="380.10" cy="63.67" r="2.75" fill="#c4c4c4" stroke="#222" stroke-width="1.0"/>
<text x="394.2" y="66.87" font-family='"Liberation Sans", sans-serif' font-weight="bold" font-size="8.65">GBR 13.2</text>
<path d="M371 75.10H389.4" stroke="#3a3a3a" stroke-width="0.9"/>
<polygon points="380.10,72.10 380.86,74.05 382.95,74.17 381.34,75.50 381.86,77.53 380.10,76.40 378.34,77.53 378.86,75.50 377.25,74.17 379.34,74.05" fill="#fff" stroke="#222" stroke-width="0.8"/>
<text x="394.2" y="78.30" font-family='"Liberation Sans", sans-serif' font-weight="bold" font-size="8.65">GBR 16</text>
<path d="M371 86.53H389.4" stroke="#3a3a3a" stroke-width="0.9"/>
<path d="M380.10 83.63L382.85 88.13L377.35 88.13Z" fill="#fff" stroke="#222" stroke-width="0.8"/>
<text x="394.2" y="89.73" font-family='"Liberation Sans", sans-serif' font-weight="bold" font-size="8.65">GBR 28.5</text>
</svg>
</body></html>
